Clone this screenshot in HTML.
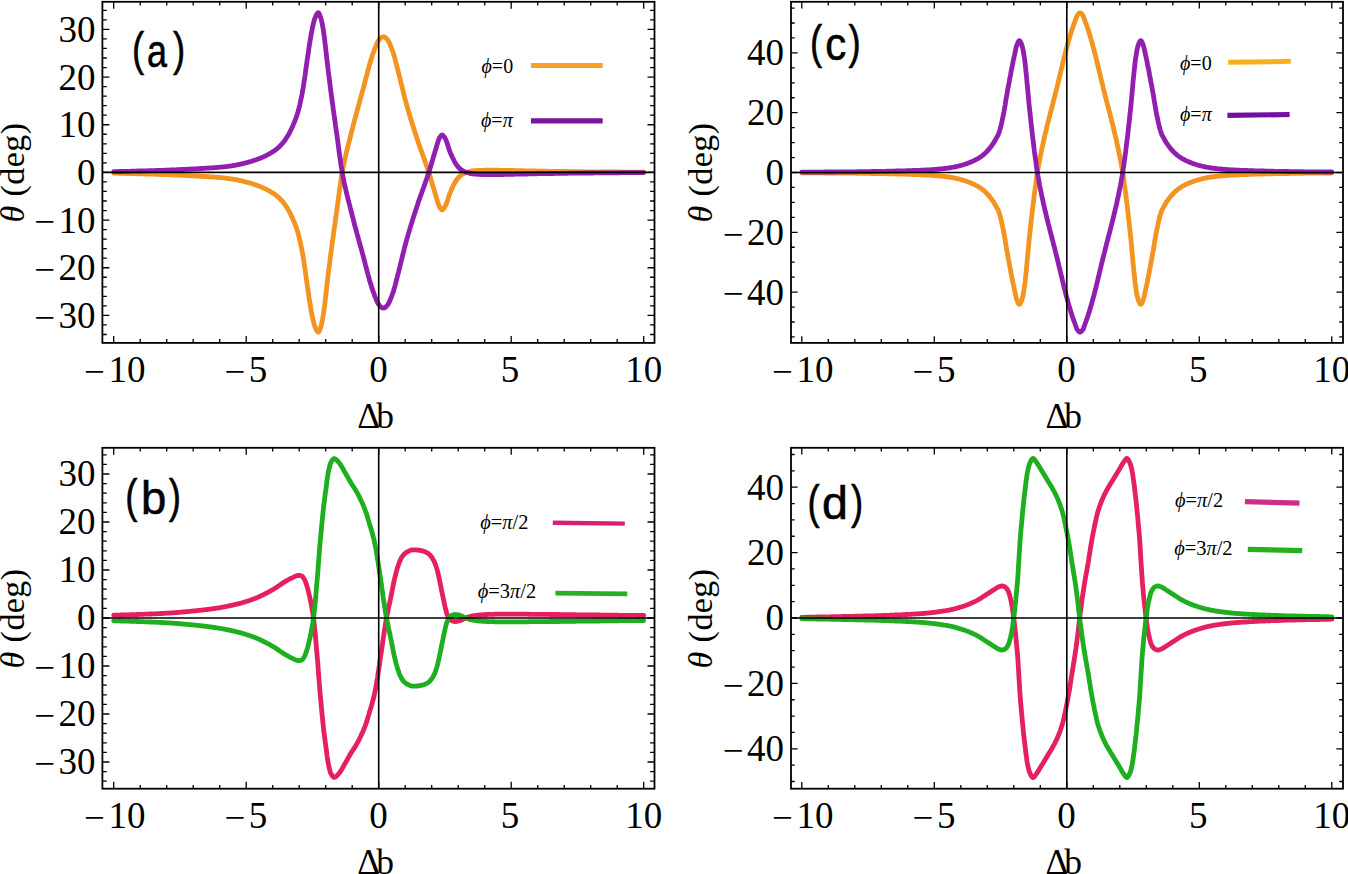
<!DOCTYPE html>
<html lang="en"><head><meta charset="utf-8">
<title>Rotation angle versus detuning</title>
<style>html,body{margin:0;padding:0;background:#fff;}svg{display:block;}</style>
</head><body>
<svg width="1348" height="874" viewBox="0 0 1348 874">
<rect width="1348" height="874" fill="#fff"/>
<g id="panel-a">
<g fill="none" stroke-width="4.8" stroke-linejoin="round" stroke-linecap="round">
<path stroke="#F39320" d="M113.7,173.1 L114.4,173.1 L115.0,173.2 L115.7,173.2 L116.3,173.2 L117.0,173.2 L117.7,173.2 L118.3,173.2 L119.0,173.3 L119.7,173.3 L120.3,173.3 L121.0,173.3 L121.7,173.3 L122.3,173.3 L123.0,173.4 L123.6,173.4 L124.3,173.4 L125.0,173.4 L125.6,173.4 L126.3,173.4 L126.9,173.5 L127.6,173.5 L128.3,173.5 L128.9,173.5 L129.6,173.5 L130.3,173.5 L130.9,173.6 L131.6,173.6 L132.2,173.6 L132.9,173.6 L133.6,173.6 L134.2,173.7 L134.9,173.7 L135.6,173.7 L136.2,173.7 L136.9,173.7 L137.6,173.8 L138.2,173.8 L138.9,173.8 L139.5,173.8 L140.2,173.8 L140.9,173.8 L141.5,173.9 L142.2,173.9 L142.8,173.9 L143.5,173.9 L144.2,173.9 L144.8,174.0 L145.5,174.0 L146.2,174.0 L146.8,174.0 L147.5,174.0 L148.2,174.1 L148.8,174.1 L149.5,174.1 L150.1,174.1 L150.8,174.1 L151.5,174.1 L152.1,174.2 L152.8,174.2 L153.4,174.2 L154.1,174.2 L154.8,174.2 L155.4,174.3 L156.1,174.3 L156.8,174.3 L157.4,174.3 L158.1,174.3 L158.7,174.4 L159.4,174.4 L160.1,174.4 L160.7,174.4 L161.4,174.4 L162.1,174.5 L162.7,174.5 L163.4,174.5 L164.1,174.5 L164.7,174.6 L165.4,174.6 L166.0,174.6 L166.7,174.6 L167.4,174.7 L168.0,174.7 L168.7,174.7 L169.3,174.7 L170.0,174.8 L170.7,174.8 L171.3,174.8 L172.0,174.9 L172.7,174.9 L173.3,174.9 L174.0,175.0 L174.7,175.0 L175.3,175.0 L176.0,175.0 L176.6,175.1 L177.3,175.1 L178.0,175.1 L178.6,175.2 L179.3,175.2 L179.9,175.2 L180.6,175.3 L181.3,175.3 L181.9,175.3 L182.6,175.4 L183.3,175.4 L183.9,175.4 L184.6,175.4 L185.2,175.5 L185.9,175.5 L186.6,175.5 L187.2,175.6 L187.9,175.6 L188.6,175.6 L189.2,175.7 L189.9,175.7 L190.6,175.7 L191.2,175.8 L191.9,175.8 L192.5,175.8 L193.2,175.9 L193.9,175.9 L194.5,175.9 L195.2,176.0 L195.8,176.0 L196.5,176.0 L197.2,176.1 L197.8,176.1 L198.5,176.1 L199.2,176.2 L199.8,176.2 L200.5,176.3 L201.2,176.3 L201.8,176.3 L202.5,176.4 L203.1,176.4 L203.8,176.5 L204.5,176.5 L205.1,176.5 L205.8,176.6 L206.4,176.6 L207.1,176.7 L207.8,176.7 L208.4,176.7 L209.1,176.8 L209.8,176.8 L210.4,176.9 L211.1,176.9 L211.8,177.0 L212.4,177.0 L213.1,177.0 L213.7,177.1 L214.4,177.1 L215.1,177.2 L215.7,177.2 L216.4,177.3 L217.1,177.3 L217.7,177.4 L218.4,177.5 L219.0,177.5 L219.7,177.6 L220.4,177.6 L221.0,177.7 L221.7,177.7 L222.3,177.8 L223.0,177.9 L223.7,177.9 L224.3,178.0 L225.0,178.1 L225.7,178.2 L226.3,178.2 L227.0,178.3 L227.6,178.4 L228.3,178.5 L229.0,178.6 L229.6,178.7 L230.3,178.8 L231.0,178.9 L231.6,179.0 L232.3,179.1 L232.9,179.2 L233.6,179.3 L234.3,179.4 L234.9,179.5 L235.6,179.6 L236.3,179.8 L236.9,179.9 L237.6,180.0 L238.2,180.2 L238.9,180.3 L239.6,180.4 L240.2,180.6 L240.9,180.7 L241.6,180.9 L242.2,181.0 L242.9,181.2 L243.6,181.4 L244.2,181.5 L244.9,181.7 L245.5,181.9 L246.2,182.0 L246.9,182.2 L247.5,182.4 L248.2,182.6 L248.8,182.8 L249.5,182.9 L250.2,183.1 L250.8,183.3 L251.5,183.5 L252.2,183.7 L252.8,184.0 L253.5,184.2 L254.2,184.4 L254.8,184.6 L255.5,184.8 L256.1,185.1 L256.8,185.3 L257.5,185.6 L258.1,185.8 L258.8,186.1 L259.4,186.3 L260.1,186.6 L260.8,186.9 L261.4,187.1 L262.1,187.4 L262.8,187.7 L263.4,188.0 L264.1,188.3 L264.8,188.6 L265.4,188.9 L266.1,189.2 L266.7,189.6 L267.4,189.9 L268.1,190.3 L268.7,190.6 L269.4,191.0 L270.1,191.4 L270.7,191.8 L271.4,192.2 L272.0,192.6 L272.7,193.0 L273.4,193.4 L274.0,193.9 L274.7,194.3 L275.4,194.8 L276.0,195.3 L276.7,195.8 L277.3,196.4 L278.0,196.9 L278.7,197.5 L279.3,198.1 L280.0,198.8 L280.6,199.5 L281.3,200.2 L282.0,200.9 L282.6,201.7 L283.3,202.5 L284.0,203.3 L284.6,204.2 L285.3,205.1 L285.9,206.1 L286.6,207.1 L287.3,208.1 L287.9,209.2 L288.6,210.4 L289.3,211.6 L289.9,212.9 L290.6,214.2 L291.2,215.5 L291.9,216.9 L292.6,218.4 L293.2,219.9 L293.9,221.5 L294.6,223.1 L295.2,224.9 L295.9,226.6 L296.6,228.5 L297.2,230.4 L297.9,232.5 L298.5,234.9 L299.2,237.5 L299.9,240.3 L300.5,243.3 L301.2,246.5 L301.9,249.9 L302.5,253.4 L303.2,257.1 L303.8,261.1 L304.5,265.6 L305.2,270.3 L305.8,275.2 L306.5,279.9 L307.1,284.3 L307.8,288.9 L308.5,293.4 L309.1,297.9 L309.8,302.3 L310.5,306.5 L311.1,310.4 L311.8,313.8 L312.4,317.1 L313.1,320.2 L313.8,323.0 L314.4,325.3 L315.1,327.0 L315.8,328.6 L316.4,330.0 L317.1,331.2 L317.8,331.9 L318.4,332.1 L319.1,331.4 L319.7,329.9 L320.4,328.0 L321.1,326.0 L321.7,323.3 L322.4,320.0 L323.1,316.1 L323.7,312.0 L324.4,307.4 L325.0,302.0 L325.7,296.1 L326.4,290.1 L327.0,284.4 L327.7,279.0 L328.3,273.5 L329.0,268.2 L329.7,262.8 L330.3,257.6 L331.0,252.5 L331.7,247.5 L332.3,242.6 L333.0,237.8 L333.6,233.0 L334.3,228.2 L335.0,223.5 L335.6,218.7 L336.3,214.0 L337.0,209.3 L337.6,204.6 L338.3,199.7 L338.9,194.7 L339.6,189.7 L340.3,184.9 L340.9,180.2 L341.6,176.0 L342.3,172.1 L342.9,168.6 L343.6,165.2 L344.2,162.0 L344.9,158.9 L345.6,156.0 L346.2,153.1 L346.9,150.3 L347.6,147.6 L348.2,145.0 L348.9,142.4 L349.6,139.8 L350.2,137.3 L350.9,134.7 L351.5,132.1 L352.2,129.5 L352.9,126.9 L353.5,124.3 L354.2,121.8 L354.8,119.2 L355.5,116.8 L356.2,114.3 L356.8,111.9 L357.5,109.4 L358.2,107.0 L358.8,104.6 L359.5,102.2 L360.1,99.8 L360.8,97.4 L361.5,95.0 L362.1,92.6 L362.8,90.1 L363.5,87.6 L364.1,85.1 L364.8,82.5 L365.4,80.0 L366.1,77.4 L366.8,74.9 L367.4,72.4 L368.1,69.9 L368.8,67.5 L369.4,65.1 L370.1,62.8 L370.8,60.6 L371.4,58.4 L372.1,56.4 L372.7,54.4 L373.4,52.6 L374.1,50.8 L374.7,49.0 L375.4,47.2 L376.1,45.6 L376.7,44.0 L377.4,42.6 L378.0,41.4 L378.7,40.4 L379.4,39.4 L380.0,38.6 L380.7,37.9 L381.4,37.5 L382.0,37.2 L382.7,37.0 L383.3,36.8 L384.0,36.8 L384.7,37.0 L385.3,37.5 L386.0,38.1 L386.7,38.8 L387.3,39.5 L388.0,40.4 L388.6,41.5 L389.3,42.8 L390.0,44.3 L390.6,45.9 L391.3,47.5 L391.9,49.3 L392.6,51.1 L393.3,53.0 L393.9,55.1 L394.6,57.5 L395.3,60.0 L395.9,62.5 L396.6,65.1 L397.2,67.7 L397.9,70.3 L398.6,72.9 L399.2,75.5 L399.9,78.1 L400.6,80.9 L401.2,83.6 L401.9,86.4 L402.6,89.1 L403.2,91.8 L403.9,94.5 L404.5,97.1 L405.2,99.7 L405.9,102.1 L406.5,104.5 L407.2,106.9 L407.9,109.2 L408.5,111.4 L409.2,113.7 L409.8,115.9 L410.5,118.1 L411.2,120.2 L411.8,122.4 L412.5,124.5 L413.1,126.6 L413.8,128.6 L414.5,130.7 L415.1,132.8 L415.8,134.8 L416.5,136.8 L417.1,138.8 L417.8,140.9 L418.4,142.9 L419.1,144.8 L419.8,146.7 L420.4,148.6 L421.1,150.5 L421.8,152.3 L422.4,154.2 L423.1,156.0 L423.8,157.8 L424.4,159.7 L425.1,161.5 L425.7,163.4 L426.4,165.3 L427.1,167.2 L427.7,169.2 L428.4,171.2 L429.1,173.2 L429.7,175.3 L430.4,177.5 L431.0,179.7 L431.7,182.0 L432.4,184.3 L433.0,186.5 L433.7,188.8 L434.4,191.0 L435.0,193.2 L435.7,195.3 L436.3,197.5 L437.0,199.8 L437.7,202.0 L438.3,204.1 L439.0,205.9 L439.6,207.2 L440.3,208.2 L441.0,209.1 L441.6,209.7 L442.3,209.8 L443.0,209.4 L443.6,208.6 L444.3,207.7 L444.9,206.7 L445.6,205.5 L446.3,204.0 L446.9,202.2 L447.6,200.2 L448.3,198.1 L448.9,196.0 L449.6,194.1 L450.2,192.4 L450.9,190.9 L451.6,189.3 L452.2,187.8 L452.9,186.4 L453.6,185.0 L454.2,183.7 L454.9,182.5 L455.6,181.5 L456.2,180.5 L456.9,179.5 L457.5,178.7 L458.2,177.8 L458.9,177.1 L459.5,176.4 L460.2,175.8 L460.9,175.3 L461.5,174.8 L462.2,174.4 L462.8,174.0 L463.5,173.7 L464.2,173.4 L464.8,173.1 L465.5,172.8 L466.1,172.6 L466.8,172.4 L467.5,172.2 L468.1,172.0 L468.8,171.8 L469.5,171.6 L470.1,171.4 L470.8,171.2 L471.4,171.1 L472.1,171.0 L472.8,170.9 L473.4,170.8 L474.1,170.7 L474.8,170.7 L475.4,170.6 L476.1,170.6 L476.8,170.6 L477.4,170.5 L478.1,170.5 L478.7,170.5 L479.4,170.4 L480.1,170.4 L480.7,170.4 L481.4,170.3 L482.1,170.3 L482.7,170.3 L483.4,170.3 L484.0,170.2 L484.7,170.2 L485.4,170.2 L486.0,170.2 L486.7,170.2 L487.4,170.2 L488.0,170.2 L488.7,170.2 L489.3,170.2 L490.0,170.2 L490.7,170.2 L491.3,170.2 L492.0,170.2 L492.6,170.2 L493.3,170.2 L494.0,170.2 L494.6,170.2 L495.3,170.2 L496.0,170.2 L496.6,170.2 L497.3,170.2 L497.9,170.2 L498.6,170.2 L499.3,170.3 L499.9,170.3 L500.6,170.3 L501.3,170.3 L501.9,170.3 L502.6,170.3 L503.2,170.3 L503.9,170.3 L504.6,170.4 L505.2,170.4 L505.9,170.4 L506.6,170.4 L507.2,170.4 L507.9,170.4 L508.6,170.4 L509.2,170.5 L509.9,170.5 L510.5,170.5 L511.2,170.5 L511.9,170.5 L512.5,170.5 L513.2,170.5 L513.9,170.5 L514.5,170.6 L515.2,170.6 L515.8,170.6 L516.5,170.6 L517.2,170.6 L517.8,170.6 L518.5,170.6 L519.1,170.7 L519.8,170.7 L520.5,170.7 L521.1,170.7 L521.8,170.7 L522.5,170.7 L523.1,170.7 L523.8,170.8 L524.5,170.8 L525.1,170.8 L525.8,170.8 L526.4,170.8 L527.1,170.8 L527.8,170.9 L528.4,170.9 L529.1,170.9 L529.8,170.9 L530.4,170.9 L531.1,170.9 L531.7,170.9 L532.4,171.0 L533.1,171.0 L533.7,171.0 L534.4,171.0 L535.0,171.0 L535.7,171.0 L536.4,171.0 L537.0,171.1 L537.7,171.1 L538.4,171.1 L539.0,171.1 L539.7,171.1 L540.4,171.1 L541.0,171.1 L541.7,171.1 L542.3,171.1 L543.0,171.2 L543.7,171.2 L544.3,171.2 L545.0,171.2 L545.6,171.2 L546.3,171.2 L547.0,171.2 L547.6,171.2 L548.3,171.3 L549.0,171.3 L549.6,171.3 L550.3,171.3 L551.0,171.3 L551.6,171.3 L552.3,171.3 L552.9,171.3 L553.6,171.3 L554.3,171.4 L554.9,171.4 L555.6,171.4 L556.2,171.4 L556.9,171.4 L557.6,171.4 L558.2,171.4 L558.9,171.4 L559.6,171.4 L560.2,171.4 L560.9,171.5 L561.6,171.5 L562.2,171.5 L562.9,171.5 L563.5,171.5 L564.2,171.5 L564.9,171.5 L565.5,171.5 L566.2,171.5 L566.9,171.5 L567.5,171.6 L568.2,171.6 L568.8,171.6 L569.5,171.6 L570.2,171.6 L570.8,171.6 L571.5,171.6 L572.1,171.6 L572.8,171.6 L573.5,171.6 L574.1,171.6 L574.8,171.7 L575.5,171.7 L576.1,171.7 L576.8,171.7 L577.5,171.7 L578.1,171.7 L578.8,171.7 L579.4,171.7 L580.1,171.7 L580.8,171.7 L581.4,171.7 L582.1,171.7 L582.8,171.8 L583.4,171.8 L584.1,171.8 L584.7,171.8 L585.4,171.8 L586.1,171.8 L586.7,171.8 L587.4,171.8 L588.1,171.8 L588.7,171.8 L589.4,171.8 L590.0,171.8 L590.7,171.8 L591.4,171.8 L592.0,171.8 L592.7,171.8 L593.4,171.8 L594.0,171.9 L594.7,171.9 L595.3,171.9 L596.0,171.9 L596.7,171.9 L597.3,171.9 L598.0,171.9 L598.6,171.9 L599.3,171.9 L600.0,171.9 L600.6,171.9 L601.3,171.9 L602.0,171.9 L602.6,171.9 L603.3,171.9 L604.0,171.9 L604.6,171.9 L605.3,171.9 L605.9,171.9 L606.6,172.0 L607.3,172.0 L607.9,172.0 L608.6,172.0 L609.2,172.0 L609.9,172.0 L610.6,172.0 L611.2,172.0 L611.9,172.0 L612.6,172.0 L613.2,172.0 L613.9,172.0 L614.6,172.0 L615.2,172.0 L615.9,172.0 L616.5,172.0 L617.2,172.0 L617.9,172.0 L618.5,172.0 L619.2,172.0 L619.9,172.0 L620.5,172.1 L621.2,172.1 L621.8,172.1 L622.5,172.1 L623.2,172.1 L623.8,172.1 L624.5,172.1 L625.1,172.1 L625.8,172.1 L626.5,172.1 L627.1,172.1 L627.8,172.1 L628.5,172.1 L629.1,172.1 L629.8,172.1 L630.5,172.1 L631.1,172.1 L631.8,172.1 L632.4,172.1 L633.1,172.1 L633.8,172.1 L634.4,172.1 L635.1,172.1 L635.8,172.1 L636.4,172.1 L637.1,172.1 L637.7,172.1 L638.4,172.1 L639.1,172.1 L639.7,172.1 L640.4,172.1 L641.1,172.1 L641.7,172.1 L642.4,172.1 L643.0,172.2 L643.7,172.2"/>
<path stroke="#911EAF" d="M113.7,171.7 L114.4,171.7 L115.0,171.6 L115.7,171.6 L116.3,171.6 L117.0,171.6 L117.7,171.6 L118.3,171.6 L119.0,171.5 L119.7,171.5 L120.3,171.5 L121.0,171.5 L121.7,171.5 L122.3,171.5 L123.0,171.4 L123.6,171.4 L124.3,171.4 L125.0,171.4 L125.6,171.4 L126.3,171.4 L126.9,171.3 L127.6,171.3 L128.3,171.3 L128.9,171.3 L129.6,171.3 L130.3,171.3 L130.9,171.2 L131.6,171.2 L132.2,171.2 L132.9,171.2 L133.6,171.2 L134.2,171.1 L134.9,171.1 L135.6,171.1 L136.2,171.1 L136.9,171.1 L137.6,171.0 L138.2,171.0 L138.9,171.0 L139.5,171.0 L140.2,171.0 L140.9,171.0 L141.5,170.9 L142.2,170.9 L142.8,170.9 L143.5,170.9 L144.2,170.9 L144.8,170.8 L145.5,170.8 L146.2,170.8 L146.8,170.8 L147.5,170.8 L148.2,170.7 L148.8,170.7 L149.5,170.7 L150.1,170.7 L150.8,170.7 L151.5,170.7 L152.1,170.6 L152.8,170.6 L153.4,170.6 L154.1,170.6 L154.8,170.6 L155.4,170.5 L156.1,170.5 L156.8,170.5 L157.4,170.5 L158.1,170.5 L158.7,170.4 L159.4,170.4 L160.1,170.4 L160.7,170.4 L161.4,170.4 L162.1,170.3 L162.7,170.3 L163.4,170.3 L164.1,170.3 L164.7,170.2 L165.4,170.2 L166.0,170.2 L166.7,170.2 L167.4,170.1 L168.0,170.1 L168.7,170.1 L169.3,170.1 L170.0,170.0 L170.7,170.0 L171.3,170.0 L172.0,169.9 L172.7,169.9 L173.3,169.9 L174.0,169.8 L174.7,169.8 L175.3,169.8 L176.0,169.8 L176.6,169.7 L177.3,169.7 L178.0,169.7 L178.6,169.6 L179.3,169.6 L179.9,169.6 L180.6,169.5 L181.3,169.5 L181.9,169.5 L182.6,169.4 L183.3,169.4 L183.9,169.4 L184.6,169.4 L185.2,169.3 L185.9,169.3 L186.6,169.3 L187.2,169.2 L187.9,169.2 L188.6,169.2 L189.2,169.1 L189.9,169.1 L190.6,169.1 L191.2,169.0 L191.9,169.0 L192.5,169.0 L193.2,168.9 L193.9,168.9 L194.5,168.9 L195.2,168.8 L195.8,168.8 L196.5,168.8 L197.2,168.7 L197.8,168.7 L198.5,168.7 L199.2,168.6 L199.8,168.6 L200.5,168.5 L201.2,168.5 L201.8,168.5 L202.5,168.4 L203.1,168.4 L203.8,168.3 L204.5,168.3 L205.1,168.3 L205.8,168.2 L206.4,168.2 L207.1,168.1 L207.8,168.1 L208.4,168.1 L209.1,168.0 L209.8,168.0 L210.4,167.9 L211.1,167.9 L211.8,167.8 L212.4,167.8 L213.1,167.8 L213.7,167.7 L214.4,167.7 L215.1,167.6 L215.7,167.6 L216.4,167.5 L217.1,167.5 L217.7,167.4 L218.4,167.3 L219.0,167.3 L219.7,167.2 L220.4,167.2 L221.0,167.1 L221.7,167.1 L222.3,167.0 L223.0,166.9 L223.7,166.9 L224.3,166.8 L225.0,166.7 L225.7,166.6 L226.3,166.6 L227.0,166.5 L227.6,166.4 L228.3,166.3 L229.0,166.2 L229.6,166.1 L230.3,166.0 L231.0,165.9 L231.6,165.8 L232.3,165.7 L232.9,165.6 L233.6,165.5 L234.3,165.4 L234.9,165.3 L235.6,165.2 L236.3,165.0 L236.9,164.9 L237.6,164.8 L238.2,164.6 L238.9,164.5 L239.6,164.4 L240.2,164.2 L240.9,164.1 L241.6,163.9 L242.2,163.8 L242.9,163.6 L243.6,163.4 L244.2,163.3 L244.9,163.1 L245.5,162.9 L246.2,162.8 L246.9,162.6 L247.5,162.4 L248.2,162.2 L248.8,162.0 L249.5,161.9 L250.2,161.7 L250.8,161.5 L251.5,161.3 L252.2,161.1 L252.8,160.8 L253.5,160.6 L254.2,160.4 L254.8,160.2 L255.5,160.0 L256.1,159.7 L256.8,159.5 L257.5,159.2 L258.1,159.0 L258.8,158.7 L259.4,158.5 L260.1,158.2 L260.8,157.9 L261.4,157.7 L262.1,157.4 L262.8,157.1 L263.4,156.8 L264.1,156.5 L264.8,156.2 L265.4,155.9 L266.1,155.6 L266.7,155.2 L267.4,154.9 L268.1,154.5 L268.7,154.2 L269.4,153.8 L270.1,153.4 L270.7,153.0 L271.4,152.6 L272.0,152.2 L272.7,151.8 L273.4,151.4 L274.0,150.9 L274.7,150.5 L275.4,150.0 L276.0,149.5 L276.7,149.0 L277.3,148.4 L278.0,147.9 L278.7,147.3 L279.3,146.7 L280.0,146.0 L280.6,145.3 L281.3,144.6 L282.0,143.9 L282.6,143.1 L283.3,142.3 L284.0,141.5 L284.6,140.6 L285.3,139.7 L285.9,138.7 L286.6,137.7 L287.3,136.7 L287.9,135.6 L288.6,134.4 L289.3,133.2 L289.9,131.9 L290.6,130.6 L291.2,129.3 L291.9,127.9 L292.6,126.4 L293.2,124.9 L293.9,123.3 L294.6,121.7 L295.2,119.9 L295.9,118.2 L296.6,116.3 L297.2,114.4 L297.9,112.3 L298.5,109.9 L299.2,107.3 L299.9,104.5 L300.5,101.5 L301.2,98.3 L301.9,94.9 L302.5,91.4 L303.2,87.7 L303.8,83.7 L304.5,79.2 L305.2,74.5 L305.8,69.6 L306.5,64.9 L307.1,60.5 L307.8,55.9 L308.5,51.4 L309.1,46.9 L309.8,42.5 L310.5,38.3 L311.1,34.4 L311.8,31.0 L312.4,27.7 L313.1,24.6 L313.8,21.8 L314.4,19.5 L315.1,17.8 L315.8,16.2 L316.4,14.8 L317.1,13.6 L317.8,12.9 L318.4,12.7 L319.1,13.4 L319.7,14.9 L320.4,16.8 L321.1,18.8 L321.7,21.5 L322.4,24.8 L323.1,28.7 L323.7,32.8 L324.4,37.4 L325.0,42.8 L325.7,48.7 L326.4,54.7 L327.0,60.4 L327.7,65.8 L328.3,71.3 L329.0,76.6 L329.7,82.0 L330.3,87.2 L331.0,92.3 L331.7,97.3 L332.3,102.2 L333.0,107.0 L333.6,111.8 L334.3,116.6 L335.0,121.3 L335.6,126.1 L336.3,130.8 L337.0,135.5 L337.6,140.2 L338.3,145.1 L338.9,150.1 L339.6,155.1 L340.3,159.9 L340.9,164.6 L341.6,168.8 L342.3,172.7 L342.9,176.2 L343.6,179.6 L344.2,182.8 L344.9,185.9 L345.6,188.8 L346.2,191.7 L346.9,194.5 L347.6,197.2 L348.2,199.8 L348.9,202.4 L349.6,205.0 L350.2,207.5 L350.9,210.1 L351.5,212.7 L352.2,215.3 L352.9,217.9 L353.5,220.5 L354.2,223.0 L354.8,225.6 L355.5,228.0 L356.2,230.5 L356.8,232.9 L357.5,235.4 L358.2,237.8 L358.8,240.2 L359.5,242.6 L360.1,245.0 L360.8,247.4 L361.5,249.8 L362.1,252.2 L362.8,254.7 L363.5,257.2 L364.1,259.7 L364.8,262.3 L365.4,264.8 L366.1,267.4 L366.8,269.9 L367.4,272.4 L368.1,274.9 L368.8,277.3 L369.4,279.7 L370.1,282.0 L370.8,284.2 L371.4,286.4 L372.1,288.4 L372.7,290.4 L373.4,292.2 L374.1,294.0 L374.7,295.8 L375.4,297.6 L376.1,299.2 L376.7,300.8 L377.4,302.2 L378.0,303.4 L378.7,304.4 L379.4,305.4 L380.0,306.2 L380.7,306.9 L381.4,307.3 L382.0,307.6 L382.7,307.8 L383.3,308.0 L384.0,308.0 L384.7,307.8 L385.3,307.3 L386.0,306.7 L386.7,306.0 L387.3,305.3 L388.0,304.4 L388.6,303.3 L389.3,302.0 L390.0,300.5 L390.6,298.9 L391.3,297.3 L391.9,295.5 L392.6,293.7 L393.3,291.8 L393.9,289.7 L394.6,287.3 L395.3,284.8 L395.9,282.3 L396.6,279.7 L397.2,277.1 L397.9,274.5 L398.6,271.9 L399.2,269.3 L399.9,266.7 L400.6,263.9 L401.2,261.2 L401.9,258.4 L402.6,255.7 L403.2,253.0 L403.9,250.3 L404.5,247.7 L405.2,245.1 L405.9,242.7 L406.5,240.3 L407.2,237.9 L407.9,235.6 L408.5,233.4 L409.2,231.1 L409.8,228.9 L410.5,226.7 L411.2,224.6 L411.8,222.4 L412.5,220.3 L413.1,218.2 L413.8,216.2 L414.5,214.1 L415.1,212.0 L415.8,210.0 L416.5,208.0 L417.1,206.0 L417.8,203.9 L418.4,201.9 L419.1,200.0 L419.8,198.1 L420.4,196.2 L421.1,194.3 L421.8,192.5 L422.4,190.6 L423.1,188.8 L423.8,187.0 L424.4,185.1 L425.1,183.3 L425.7,181.4 L426.4,179.5 L427.1,177.6 L427.7,175.6 L428.4,173.6 L429.1,171.6 L429.7,169.5 L430.4,167.3 L431.0,165.1 L431.7,162.8 L432.4,160.5 L433.0,158.3 L433.7,156.0 L434.4,153.8 L435.0,151.6 L435.7,149.5 L436.3,147.3 L437.0,145.0 L437.7,142.8 L438.3,140.7 L439.0,138.9 L439.6,137.6 L440.3,136.6 L441.0,135.7 L441.6,135.1 L442.3,135.0 L443.0,135.4 L443.6,136.2 L444.3,137.1 L444.9,138.1 L445.6,139.3 L446.3,140.8 L446.9,142.6 L447.6,144.6 L448.3,146.7 L448.9,148.8 L449.6,150.7 L450.2,152.4 L450.9,153.9 L451.6,155.5 L452.2,157.0 L452.9,158.4 L453.6,159.8 L454.2,161.1 L454.9,162.3 L455.6,163.3 L456.2,164.3 L456.9,165.3 L457.5,166.1 L458.2,167.0 L458.9,167.7 L459.5,168.4 L460.2,169.0 L460.9,169.5 L461.5,170.0 L462.2,170.4 L462.8,170.8 L463.5,171.1 L464.2,171.4 L464.8,171.7 L465.5,172.0 L466.1,172.2 L466.8,172.4 L467.5,172.6 L468.1,172.8 L468.8,173.0 L469.5,173.2 L470.1,173.4 L470.8,173.6 L471.4,173.7 L472.1,173.8 L472.8,173.9 L473.4,174.0 L474.1,174.1 L474.8,174.1 L475.4,174.2 L476.1,174.2 L476.8,174.2 L477.4,174.3 L478.1,174.3 L478.7,174.3 L479.4,174.4 L480.1,174.4 L480.7,174.4 L481.4,174.5 L482.1,174.5 L482.7,174.5 L483.4,174.5 L484.0,174.6 L484.7,174.6 L485.4,174.6 L486.0,174.6 L486.7,174.6 L487.4,174.6 L488.0,174.6 L488.7,174.6 L489.3,174.6 L490.0,174.6 L490.7,174.6 L491.3,174.6 L492.0,174.6 L492.6,174.6 L493.3,174.6 L494.0,174.6 L494.6,174.6 L495.3,174.6 L496.0,174.6 L496.6,174.6 L497.3,174.6 L497.9,174.6 L498.6,174.6 L499.3,174.5 L499.9,174.5 L500.6,174.5 L501.3,174.5 L501.9,174.5 L502.6,174.5 L503.2,174.5 L503.9,174.5 L504.6,174.4 L505.2,174.4 L505.9,174.4 L506.6,174.4 L507.2,174.4 L507.9,174.4 L508.6,174.4 L509.2,174.3 L509.9,174.3 L510.5,174.3 L511.2,174.3 L511.9,174.3 L512.5,174.3 L513.2,174.3 L513.9,174.3 L514.5,174.2 L515.2,174.2 L515.8,174.2 L516.5,174.2 L517.2,174.2 L517.8,174.2 L518.5,174.2 L519.1,174.1 L519.8,174.1 L520.5,174.1 L521.1,174.1 L521.8,174.1 L522.5,174.1 L523.1,174.1 L523.8,174.0 L524.5,174.0 L525.1,174.0 L525.8,174.0 L526.4,174.0 L527.1,174.0 L527.8,173.9 L528.4,173.9 L529.1,173.9 L529.8,173.9 L530.4,173.9 L531.1,173.9 L531.7,173.9 L532.4,173.8 L533.1,173.8 L533.7,173.8 L534.4,173.8 L535.0,173.8 L535.7,173.8 L536.4,173.8 L537.0,173.7 L537.7,173.7 L538.4,173.7 L539.0,173.7 L539.7,173.7 L540.4,173.7 L541.0,173.7 L541.7,173.7 L542.3,173.7 L543.0,173.6 L543.7,173.6 L544.3,173.6 L545.0,173.6 L545.6,173.6 L546.3,173.6 L547.0,173.6 L547.6,173.6 L548.3,173.5 L549.0,173.5 L549.6,173.5 L550.3,173.5 L551.0,173.5 L551.6,173.5 L552.3,173.5 L552.9,173.5 L553.6,173.5 L554.3,173.4 L554.9,173.4 L555.6,173.4 L556.2,173.4 L556.9,173.4 L557.6,173.4 L558.2,173.4 L558.9,173.4 L559.6,173.4 L560.2,173.4 L560.9,173.3 L561.6,173.3 L562.2,173.3 L562.9,173.3 L563.5,173.3 L564.2,173.3 L564.9,173.3 L565.5,173.3 L566.2,173.3 L566.9,173.3 L567.5,173.2 L568.2,173.2 L568.8,173.2 L569.5,173.2 L570.2,173.2 L570.8,173.2 L571.5,173.2 L572.1,173.2 L572.8,173.2 L573.5,173.2 L574.1,173.2 L574.8,173.1 L575.5,173.1 L576.1,173.1 L576.8,173.1 L577.5,173.1 L578.1,173.1 L578.8,173.1 L579.4,173.1 L580.1,173.1 L580.8,173.1 L581.4,173.1 L582.1,173.1 L582.8,173.0 L583.4,173.0 L584.1,173.0 L584.7,173.0 L585.4,173.0 L586.1,173.0 L586.7,173.0 L587.4,173.0 L588.1,173.0 L588.7,173.0 L589.4,173.0 L590.0,173.0 L590.7,173.0 L591.4,173.0 L592.0,173.0 L592.7,173.0 L593.4,173.0 L594.0,172.9 L594.7,172.9 L595.3,172.9 L596.0,172.9 L596.7,172.9 L597.3,172.9 L598.0,172.9 L598.6,172.9 L599.3,172.9 L600.0,172.9 L600.6,172.9 L601.3,172.9 L602.0,172.9 L602.6,172.9 L603.3,172.9 L604.0,172.9 L604.6,172.9 L605.3,172.9 L605.9,172.9 L606.6,172.8 L607.3,172.8 L607.9,172.8 L608.6,172.8 L609.2,172.8 L609.9,172.8 L610.6,172.8 L611.2,172.8 L611.9,172.8 L612.6,172.8 L613.2,172.8 L613.9,172.8 L614.6,172.8 L615.2,172.8 L615.9,172.8 L616.5,172.8 L617.2,172.8 L617.9,172.8 L618.5,172.8 L619.2,172.8 L619.9,172.8 L620.5,172.7 L621.2,172.7 L621.8,172.7 L622.5,172.7 L623.2,172.7 L623.8,172.7 L624.5,172.7 L625.1,172.7 L625.8,172.7 L626.5,172.7 L627.1,172.7 L627.8,172.7 L628.5,172.7 L629.1,172.7 L629.8,172.7 L630.5,172.7 L631.1,172.7 L631.8,172.7 L632.4,172.7 L633.1,172.7 L633.8,172.7 L634.4,172.7 L635.1,172.7 L635.8,172.7 L636.4,172.7 L637.1,172.7 L637.7,172.7 L638.4,172.7 L639.1,172.7 L639.7,172.7 L640.4,172.7 L641.1,172.7 L641.7,172.7 L642.4,172.7 L643.0,172.6 L643.7,172.6"/>
</g>
<path d="M102.4,172.4H654.5M378.7,1.8V342.9" stroke="#000" stroke-width="1.6" fill="none"/>
<path d="M113.7,342.9v-7.0M113.7,1.8v7.0M140.2,342.9v-3.8M140.2,1.8v3.8M166.7,342.9v-3.8M166.7,1.8v3.8M193.2,342.9v-3.8M193.2,1.8v3.8M219.7,342.9v-3.8M219.7,1.8v3.8M246.2,342.9v-7.0M246.2,1.8v7.0M272.7,342.9v-3.8M272.7,1.8v3.8M299.2,342.9v-3.8M299.2,1.8v3.8M325.7,342.9v-3.8M325.7,1.8v3.8M352.2,342.9v-3.8M352.2,1.8v3.8M378.7,342.9v-7.0M378.7,1.8v7.0M405.2,342.9v-3.8M405.2,1.8v3.8M431.7,342.9v-3.8M431.7,1.8v3.8M458.2,342.9v-3.8M458.2,1.8v3.8M484.7,342.9v-3.8M484.7,1.8v3.8M511.2,342.9v-7.0M511.2,1.8v7.0M537.7,342.9v-3.8M537.7,1.8v3.8M564.2,342.9v-3.8M564.2,1.8v3.8M590.7,342.9v-3.8M590.7,1.8v3.8M617.2,342.9v-3.8M617.2,1.8v3.8M643.7,342.9v-7.0M643.7,1.8v7.0M102.4,334.48h4.4M654.5,334.48h-4.4M102.4,324.94h4.4M654.5,324.94h-4.4M102.4,315.41h7.0M654.5,315.41h-7.0M102.4,305.88h4.4M654.5,305.88h-4.4M102.4,296.34h4.4M654.5,296.34h-4.4M102.4,286.81h4.4M654.5,286.81h-4.4M102.4,277.27h4.4M654.5,277.27h-4.4M102.4,267.74h7.0M654.5,267.74h-7.0M102.4,258.21h4.4M654.5,258.21h-4.4M102.4,248.67h4.4M654.5,248.67h-4.4M102.4,239.14h4.4M654.5,239.14h-4.4M102.4,229.6h4.4M654.5,229.6h-4.4M102.4,220.07h7.0M654.5,220.07h-7.0M102.4,210.54h4.4M654.5,210.54h-4.4M102.4,201h4.4M654.5,201h-4.4M102.4,191.47h4.4M654.5,191.47h-4.4M102.4,181.93h4.4M654.5,181.93h-4.4M102.4,172.4h7.0M654.5,172.4h-7.0M102.4,162.87h4.4M654.5,162.87h-4.4M102.4,153.33h4.4M654.5,153.33h-4.4M102.4,143.8h4.4M654.5,143.8h-4.4M102.4,134.26h4.4M654.5,134.26h-4.4M102.4,124.73h7.0M654.5,124.73h-7.0M102.4,115.2h4.4M654.5,115.2h-4.4M102.4,105.66h4.4M654.5,105.66h-4.4M102.4,96.13h4.4M654.5,96.13h-4.4M102.4,86.59h4.4M654.5,86.59h-4.4M102.4,77.06h7.0M654.5,77.06h-7.0M102.4,67.53h4.4M654.5,67.53h-4.4M102.4,57.99h4.4M654.5,57.99h-4.4M102.4,48.46h4.4M654.5,48.46h-4.4M102.4,38.92h4.4M654.5,38.92h-4.4M102.4,29.39h7.0M654.5,29.39h-7.0M102.4,19.86h4.4M654.5,19.86h-4.4M102.4,10.32h4.4M654.5,10.32h-4.4" stroke="#000" stroke-width="1.3" fill="none"/>
<rect x="102.4" y="1.8" width="552.1" height="341.1" fill="none" stroke="#000" stroke-width="1.8"/>
<g font-family="'Liberation Serif', serif" font-size="37" fill="#000"><text x="114.7" y="382.3" text-anchor="middle"><tspan dy="1.9">−</tspan><tspan dx="3.5" dy="-1.9">10</tspan></text>
<text x="245.9" y="382.3" text-anchor="middle"><tspan dy="1.9">−</tspan><tspan dx="3.5" dy="-1.9">5</tspan></text>
<text x="378.4" y="382.3" text-anchor="middle">0</text>
<text x="510.1" y="382.3" text-anchor="middle">5</text>
<text x="643.7" y="382.3" text-anchor="middle">10</text>
<text x="95.5" y="327.86" text-anchor="end"><tspan dy="1.9">−</tspan><tspan dx="3.5" dy="-1.9">30</tspan></text>
<text x="95.5" y="280.19" text-anchor="end"><tspan dy="1.9">−</tspan><tspan dx="3.5" dy="-1.9">20</tspan></text>
<text x="95.5" y="232.52" text-anchor="end"><tspan dy="1.9">−</tspan><tspan dx="3.5" dy="-1.9">10</tspan></text>
<text x="95.5" y="184.85" text-anchor="end">0</text>
<text x="95.5" y="137.18" text-anchor="end">10</text>
<text x="95.5" y="89.51" text-anchor="end">20</text>
<text x="95.5" y="41.84" text-anchor="end">30</text></g>
<text transform="translate(23.7,172.55) rotate(-90)" text-anchor="middle" font-family="'Liberation Serif', serif" font-size="34" letter-spacing="0.45"><tspan font-style="italic">θ</tspan> (deg)</text>
<text x="373.6" y="428.1" text-anchor="middle" font-family="'Liberation Serif', serif" font-size="35.5" letter-spacing="-4">Δb</text>
</g>
<g id="panel-b">
<g fill="none" stroke-width="4.8" stroke-linejoin="round" stroke-linecap="round">
<path stroke="#E5205F" d="M113.7,615.2 L114.4,615.2 L115.0,615.2 L115.7,615.2 L116.3,615.2 L117.0,615.1 L117.7,615.1 L118.3,615.1 L119.0,615.1 L119.7,615.1 L120.3,615.0 L121.0,615.0 L121.7,615.0 L122.3,615.0 L123.0,615.0 L123.6,615.0 L124.3,614.9 L125.0,614.9 L125.6,614.9 L126.3,614.9 L126.9,614.9 L127.6,614.8 L128.3,614.8 L128.9,614.8 L129.6,614.8 L130.3,614.7 L130.9,614.7 L131.6,614.7 L132.2,614.7 L132.9,614.7 L133.6,614.6 L134.2,614.6 L134.9,614.6 L135.6,614.6 L136.2,614.5 L136.9,614.5 L137.6,614.5 L138.2,614.5 L138.9,614.4 L139.5,614.4 L140.2,614.4 L140.9,614.4 L141.5,614.4 L142.2,614.3 L142.8,614.3 L143.5,614.3 L144.2,614.2 L144.8,614.2 L145.5,614.2 L146.2,614.2 L146.8,614.1 L147.5,614.1 L148.2,614.1 L148.8,614.1 L149.5,614.0 L150.1,614.0 L150.8,614.0 L151.5,614.0 L152.1,613.9 L152.8,613.9 L153.4,613.9 L154.1,613.8 L154.8,613.8 L155.4,613.8 L156.1,613.8 L156.8,613.7 L157.4,613.7 L158.1,613.7 L158.7,613.6 L159.4,613.6 L160.1,613.6 L160.7,613.5 L161.4,613.5 L162.1,613.5 L162.7,613.4 L163.4,613.4 L164.1,613.4 L164.7,613.3 L165.4,613.3 L166.0,613.2 L166.7,613.2 L167.4,613.2 L168.0,613.1 L168.7,613.1 L169.3,613.0 L170.0,613.0 L170.7,613.0 L171.3,612.9 L172.0,612.9 L172.7,612.8 L173.3,612.8 L174.0,612.7 L174.7,612.7 L175.3,612.6 L176.0,612.6 L176.6,612.5 L177.3,612.5 L178.0,612.4 L178.6,612.4 L179.3,612.3 L179.9,612.3 L180.6,612.2 L181.3,612.2 L181.9,612.1 L182.6,612.0 L183.3,612.0 L183.9,611.9 L184.6,611.9 L185.2,611.8 L185.9,611.7 L186.6,611.7 L187.2,611.6 L187.9,611.6 L188.6,611.5 L189.2,611.4 L189.9,611.4 L190.6,611.3 L191.2,611.2 L191.9,611.2 L192.5,611.1 L193.2,611.0 L193.9,611.0 L194.5,610.9 L195.2,610.8 L195.8,610.8 L196.5,610.7 L197.2,610.6 L197.8,610.6 L198.5,610.5 L199.2,610.4 L199.8,610.3 L200.5,610.3 L201.2,610.2 L201.8,610.1 L202.5,610.0 L203.1,610.0 L203.8,609.9 L204.5,609.8 L205.1,609.7 L205.8,609.7 L206.4,609.6 L207.1,609.5 L207.8,609.4 L208.4,609.3 L209.1,609.2 L209.8,609.1 L210.4,609.1 L211.1,609.0 L211.8,608.9 L212.4,608.8 L213.1,608.7 L213.7,608.6 L214.4,608.5 L215.1,608.4 L215.7,608.3 L216.4,608.2 L217.1,608.1 L217.7,608.0 L218.4,607.9 L219.0,607.8 L219.7,607.7 L220.4,607.6 L221.0,607.5 L221.7,607.3 L222.3,607.2 L223.0,607.1 L223.7,607.0 L224.3,606.9 L225.0,606.7 L225.7,606.6 L226.3,606.5 L227.0,606.3 L227.6,606.2 L228.3,606.1 L229.0,605.9 L229.6,605.8 L230.3,605.6 L231.0,605.5 L231.6,605.4 L232.3,605.2 L232.9,605.1 L233.6,604.9 L234.3,604.7 L234.9,604.6 L235.6,604.4 L236.3,604.3 L236.9,604.1 L237.6,603.9 L238.2,603.8 L238.9,603.6 L239.6,603.4 L240.2,603.3 L240.9,603.1 L241.6,602.9 L242.2,602.7 L242.9,602.5 L243.6,602.3 L244.2,602.1 L244.9,601.9 L245.5,601.7 L246.2,601.5 L246.9,601.3 L247.5,601.1 L248.2,600.9 L248.8,600.7 L249.5,600.5 L250.2,600.2 L250.8,600.0 L251.5,599.8 L252.2,599.5 L252.8,599.3 L253.5,599.0 L254.2,598.8 L254.8,598.5 L255.5,598.3 L256.1,598.0 L256.8,597.7 L257.5,597.4 L258.1,597.1 L258.8,596.9 L259.4,596.6 L260.1,596.3 L260.8,595.9 L261.4,595.6 L262.1,595.3 L262.8,595.0 L263.4,594.7 L264.1,594.3 L264.8,594.0 L265.4,593.7 L266.1,593.3 L266.7,593.0 L267.4,592.6 L268.1,592.3 L268.7,591.9 L269.4,591.6 L270.1,591.2 L270.7,590.8 L271.4,590.4 L272.0,590.1 L272.7,589.7 L273.4,589.3 L274.0,588.9 L274.7,588.5 L275.4,588.1 L276.0,587.6 L276.7,587.2 L277.3,586.8 L278.0,586.3 L278.7,585.8 L279.3,585.4 L280.0,584.9 L280.6,584.5 L281.3,584.0 L282.0,583.6 L282.6,583.1 L283.3,582.7 L284.0,582.3 L284.6,581.8 L285.3,581.4 L285.9,581.0 L286.6,580.7 L287.3,580.3 L287.9,579.9 L288.6,579.6 L289.3,579.2 L289.9,578.9 L290.6,578.5 L291.2,578.2 L291.9,577.9 L292.6,577.6 L293.2,577.3 L293.9,577.0 L294.6,576.6 L295.2,576.3 L295.9,576.0 L296.6,575.8 L297.2,575.6 L297.9,575.5 L298.5,575.5 L299.2,575.4 L299.9,575.5 L300.5,575.6 L301.2,575.8 L301.9,576.0 L302.5,576.5 L303.2,577.4 L303.8,578.4 L304.5,579.6 L305.2,581.0 L305.8,582.7 L306.5,584.6 L307.1,586.7 L307.8,589.1 L308.5,591.8 L309.1,594.5 L309.8,597.5 L310.5,600.6 L311.1,603.8 L311.8,607.2 L312.4,611.0 L313.1,615.2 L313.8,620.0 L314.4,625.9 L315.1,632.6 L315.8,640.0 L316.4,647.6 L317.1,655.4 L317.8,663.3 L318.4,671.8 L319.1,680.6 L319.7,688.9 L320.4,696.6 L321.1,703.7 L321.7,710.6 L322.4,717.6 L323.1,724.3 L323.7,730.2 L324.4,735.4 L325.0,740.3 L325.7,745.2 L326.4,750.4 L327.0,755.5 L327.7,760.2 L328.3,763.8 L329.0,767.1 L329.7,769.9 L330.3,772.2 L331.0,773.7 L331.7,774.8 L332.3,775.8 L333.0,776.6 L333.6,777.2 L334.3,777.4 L335.0,777.2 L335.6,776.9 L336.3,776.4 L337.0,775.7 L337.6,775.0 L338.3,774.2 L338.9,773.5 L339.6,772.7 L340.3,771.8 L340.9,770.7 L341.6,769.6 L342.3,768.5 L342.9,767.3 L343.6,766.1 L344.2,764.9 L344.9,763.7 L345.6,762.6 L346.2,761.4 L346.9,760.3 L347.6,759.1 L348.2,757.9 L348.9,756.7 L349.6,755.5 L350.2,754.4 L350.9,753.3 L351.5,752.2 L352.2,751.1 L352.9,750.2 L353.5,749.2 L354.2,748.2 L354.8,747.2 L355.5,746.1 L356.2,745.0 L356.8,743.8 L357.5,742.6 L358.2,741.4 L358.8,740.1 L359.5,738.8 L360.1,737.4 L360.8,736.1 L361.5,734.6 L362.1,733.2 L362.8,731.7 L363.5,730.2 L364.1,728.6 L364.8,726.9 L365.4,725.2 L366.1,723.4 L366.8,721.4 L367.4,719.2 L368.1,716.9 L368.8,714.6 L369.4,712.3 L370.1,710.1 L370.8,708.0 L371.4,705.8 L372.1,703.6 L372.7,701.2 L373.4,698.6 L374.1,695.9 L374.7,692.9 L375.4,689.6 L376.1,686.0 L376.7,682.2 L377.4,678.1 L378.0,674.0 L378.7,669.5 L379.4,665.0 L380.0,660.4 L380.7,655.8 L381.4,651.3 L382.0,646.9 L382.7,642.4 L383.3,637.9 L384.0,633.5 L384.7,629.2 L385.3,625.0 L386.0,621.0 L386.7,617.3 L387.3,613.9 L388.0,610.7 L388.6,607.5 L389.3,604.5 L390.0,601.4 L390.6,598.3 L391.3,595.1 L391.9,591.9 L392.6,588.3 L393.3,584.8 L393.9,581.6 L394.6,578.7 L395.3,575.9 L395.9,573.2 L396.6,570.8 L397.2,568.5 L397.9,566.4 L398.6,564.5 L399.2,562.7 L399.9,561.0 L400.6,559.5 L401.2,558.1 L401.9,557.0 L402.6,556.1 L403.2,555.2 L403.9,554.5 L404.5,553.8 L405.2,553.2 L405.9,552.7 L406.5,552.2 L407.2,551.9 L407.9,551.5 L408.5,551.2 L409.2,550.9 L409.8,550.6 L410.5,550.3 L411.2,550.1 L411.8,550.0 L412.5,549.9 L413.1,549.8 L413.8,549.8 L414.5,549.9 L415.1,549.9 L415.8,549.9 L416.5,550.0 L417.1,550.0 L417.8,550.1 L418.4,550.1 L419.1,550.2 L419.8,550.3 L420.4,550.5 L421.1,550.6 L421.8,550.8 L422.4,550.9 L423.1,551.1 L423.8,551.3 L424.4,551.5 L425.1,551.8 L425.7,552.1 L426.4,552.4 L427.1,552.8 L427.7,553.2 L428.4,553.6 L429.1,554.2 L429.7,554.8 L430.4,555.5 L431.0,556.4 L431.7,557.2 L432.4,558.2 L433.0,559.3 L433.7,560.5 L434.4,561.9 L435.0,563.4 L435.7,565.1 L436.3,567.1 L437.0,569.4 L437.7,571.9 L438.3,574.6 L439.0,577.5 L439.6,580.6 L440.3,584.0 L441.0,587.2 L441.6,590.6 L442.3,593.8 L443.0,597.0 L443.6,600.1 L444.3,603.1 L444.9,606.2 L445.6,609.2 L446.3,611.8 L446.9,613.9 L447.6,615.7 L448.3,617.2 L448.9,618.2 L449.6,618.9 L450.2,619.6 L450.9,620.1 L451.6,620.5 L452.2,620.8 L452.9,621.1 L453.6,621.3 L454.2,621.4 L454.9,621.5 L455.6,621.5 L456.2,621.4 L456.9,621.4 L457.5,621.2 L458.2,621.1 L458.9,620.9 L459.5,620.7 L460.2,620.5 L460.9,620.4 L461.5,620.1 L462.2,619.8 L462.8,619.4 L463.5,619.0 L464.2,618.6 L464.8,618.2 L465.5,618.0 L466.1,617.7 L466.8,617.5 L467.5,617.3 L468.1,617.1 L468.8,616.9 L469.5,616.7 L470.1,616.6 L470.8,616.4 L471.4,616.2 L472.1,616.1 L472.8,615.9 L473.4,615.8 L474.1,615.7 L474.8,615.5 L475.4,615.4 L476.1,615.3 L476.8,615.3 L477.4,615.2 L478.1,615.1 L478.7,615.1 L479.4,615.0 L480.1,614.9 L480.7,614.9 L481.4,614.8 L482.1,614.8 L482.7,614.7 L483.4,614.7 L484.0,614.6 L484.7,614.6 L485.4,614.6 L486.0,614.5 L486.7,614.5 L487.4,614.5 L488.0,614.4 L488.7,614.4 L489.3,614.4 L490.0,614.3 L490.7,614.3 L491.3,614.3 L492.0,614.3 L492.6,614.3 L493.3,614.3 L494.0,614.3 L494.6,614.2 L495.3,614.2 L496.0,614.2 L496.6,614.2 L497.3,614.2 L497.9,614.2 L498.6,614.2 L499.3,614.2 L499.9,614.2 L500.6,614.2 L501.3,614.2 L501.9,614.2 L502.6,614.2 L503.2,614.2 L503.9,614.2 L504.6,614.2 L505.2,614.2 L505.9,614.2 L506.6,614.2 L507.2,614.2 L507.9,614.2 L508.6,614.2 L509.2,614.2 L509.9,614.2 L510.5,614.2 L511.2,614.2 L511.9,614.2 L512.5,614.2 L513.2,614.2 L513.9,614.2 L514.5,614.2 L515.2,614.2 L515.8,614.2 L516.5,614.2 L517.2,614.2 L517.8,614.2 L518.5,614.2 L519.1,614.2 L519.8,614.2 L520.5,614.2 L521.1,614.2 L521.8,614.2 L522.5,614.2 L523.1,614.2 L523.8,614.2 L524.5,614.2 L525.1,614.2 L525.8,614.2 L526.4,614.2 L527.1,614.2 L527.8,614.2 L528.4,614.2 L529.1,614.3 L529.8,614.3 L530.4,614.3 L531.1,614.3 L531.7,614.3 L532.4,614.3 L533.1,614.3 L533.7,614.3 L534.4,614.3 L535.0,614.3 L535.7,614.3 L536.4,614.3 L537.0,614.3 L537.7,614.3 L538.4,614.3 L539.0,614.3 L539.7,614.4 L540.4,614.4 L541.0,614.4 L541.7,614.4 L542.3,614.4 L543.0,614.4 L543.7,614.4 L544.3,614.4 L545.0,614.4 L545.6,614.4 L546.3,614.4 L547.0,614.4 L547.6,614.4 L548.3,614.4 L549.0,614.4 L549.6,614.4 L550.3,614.5 L551.0,614.5 L551.6,614.5 L552.3,614.5 L552.9,614.5 L553.6,614.5 L554.3,614.5 L554.9,614.5 L555.6,614.5 L556.2,614.5 L556.9,614.5 L557.6,614.5 L558.2,614.5 L558.9,614.5 L559.6,614.6 L560.2,614.6 L560.9,614.6 L561.6,614.6 L562.2,614.6 L562.9,614.6 L563.5,614.6 L564.2,614.6 L564.9,614.6 L565.5,614.6 L566.2,614.6 L566.9,614.6 L567.5,614.6 L568.2,614.7 L568.8,614.7 L569.5,614.7 L570.2,614.7 L570.8,614.7 L571.5,614.7 L572.1,614.7 L572.8,614.7 L573.5,614.7 L574.1,614.7 L574.8,614.7 L575.5,614.7 L576.1,614.8 L576.8,614.8 L577.5,614.8 L578.1,614.8 L578.8,614.8 L579.4,614.8 L580.1,614.8 L580.8,614.8 L581.4,614.8 L582.1,614.8 L582.8,614.8 L583.4,614.8 L584.1,614.9 L584.7,614.9 L585.4,614.9 L586.1,614.9 L586.7,614.9 L587.4,614.9 L588.1,614.9 L588.7,614.9 L589.4,614.9 L590.0,614.9 L590.7,614.9 L591.4,614.9 L592.0,615.0 L592.7,615.0 L593.4,615.0 L594.0,615.0 L594.7,615.0 L595.3,615.0 L596.0,615.0 L596.7,615.0 L597.3,615.0 L598.0,615.0 L598.6,615.0 L599.3,615.0 L600.0,615.0 L600.6,615.1 L601.3,615.1 L602.0,615.1 L602.6,615.1 L603.3,615.1 L604.0,615.1 L604.6,615.1 L605.3,615.1 L605.9,615.1 L606.6,615.1 L607.3,615.1 L607.9,615.1 L608.6,615.1 L609.2,615.2 L609.9,615.2 L610.6,615.2 L611.2,615.2 L611.9,615.2 L612.6,615.2 L613.2,615.2 L613.9,615.2 L614.6,615.2 L615.2,615.2 L615.9,615.2 L616.5,615.2 L617.2,615.2 L617.9,615.2 L618.5,615.3 L619.2,615.3 L619.9,615.3 L620.5,615.3 L621.2,615.3 L621.8,615.3 L622.5,615.3 L623.2,615.3 L623.8,615.3 L624.5,615.3 L625.1,615.3 L625.8,615.3 L626.5,615.3 L627.1,615.4 L627.8,615.4 L628.5,615.4 L629.1,615.4 L629.8,615.4 L630.5,615.4 L631.1,615.4 L631.8,615.4 L632.4,615.4 L633.1,615.4 L633.8,615.4 L634.4,615.4 L635.1,615.4 L635.8,615.5 L636.4,615.5 L637.1,615.5 L637.7,615.5 L638.4,615.5 L639.1,615.5 L639.7,615.5 L640.4,615.5 L641.1,615.5 L641.7,615.5 L642.4,615.5 L643.0,615.5 L643.7,615.5"/>
<path stroke="#1FAE1F" d="M113.7,620.8 L114.4,620.8 L115.0,620.8 L115.7,620.8 L116.3,620.8 L117.0,620.9 L117.7,620.9 L118.3,620.9 L119.0,620.9 L119.7,620.9 L120.3,621.0 L121.0,621.0 L121.7,621.0 L122.3,621.0 L123.0,621.0 L123.6,621.0 L124.3,621.1 L125.0,621.1 L125.6,621.1 L126.3,621.1 L126.9,621.1 L127.6,621.2 L128.3,621.2 L128.9,621.2 L129.6,621.2 L130.3,621.3 L130.9,621.3 L131.6,621.3 L132.2,621.3 L132.9,621.3 L133.6,621.4 L134.2,621.4 L134.9,621.4 L135.6,621.4 L136.2,621.5 L136.9,621.5 L137.6,621.5 L138.2,621.5 L138.9,621.6 L139.5,621.6 L140.2,621.6 L140.9,621.6 L141.5,621.6 L142.2,621.7 L142.8,621.7 L143.5,621.7 L144.2,621.8 L144.8,621.8 L145.5,621.8 L146.2,621.8 L146.8,621.9 L147.5,621.9 L148.2,621.9 L148.8,621.9 L149.5,622.0 L150.1,622.0 L150.8,622.0 L151.5,622.0 L152.1,622.1 L152.8,622.1 L153.4,622.1 L154.1,622.2 L154.8,622.2 L155.4,622.2 L156.1,622.2 L156.8,622.3 L157.4,622.3 L158.1,622.3 L158.7,622.4 L159.4,622.4 L160.1,622.4 L160.7,622.5 L161.4,622.5 L162.1,622.5 L162.7,622.6 L163.4,622.6 L164.1,622.6 L164.7,622.7 L165.4,622.7 L166.0,622.8 L166.7,622.8 L167.4,622.8 L168.0,622.9 L168.7,622.9 L169.3,623.0 L170.0,623.0 L170.7,623.0 L171.3,623.1 L172.0,623.1 L172.7,623.2 L173.3,623.2 L174.0,623.3 L174.7,623.3 L175.3,623.4 L176.0,623.4 L176.6,623.5 L177.3,623.5 L178.0,623.6 L178.6,623.6 L179.3,623.7 L179.9,623.7 L180.6,623.8 L181.3,623.8 L181.9,623.9 L182.6,624.0 L183.3,624.0 L183.9,624.1 L184.6,624.1 L185.2,624.2 L185.9,624.3 L186.6,624.3 L187.2,624.4 L187.9,624.4 L188.6,624.5 L189.2,624.6 L189.9,624.6 L190.6,624.7 L191.2,624.8 L191.9,624.8 L192.5,624.9 L193.2,625.0 L193.9,625.0 L194.5,625.1 L195.2,625.2 L195.8,625.2 L196.5,625.3 L197.2,625.4 L197.8,625.4 L198.5,625.5 L199.2,625.6 L199.8,625.7 L200.5,625.7 L201.2,625.8 L201.8,625.9 L202.5,626.0 L203.1,626.0 L203.8,626.1 L204.5,626.2 L205.1,626.3 L205.8,626.3 L206.4,626.4 L207.1,626.5 L207.8,626.6 L208.4,626.7 L209.1,626.8 L209.8,626.9 L210.4,626.9 L211.1,627.0 L211.8,627.1 L212.4,627.2 L213.1,627.3 L213.7,627.4 L214.4,627.5 L215.1,627.6 L215.7,627.7 L216.4,627.8 L217.1,627.9 L217.7,628.0 L218.4,628.1 L219.0,628.2 L219.7,628.3 L220.4,628.4 L221.0,628.5 L221.7,628.7 L222.3,628.8 L223.0,628.9 L223.7,629.0 L224.3,629.1 L225.0,629.3 L225.7,629.4 L226.3,629.5 L227.0,629.7 L227.6,629.8 L228.3,629.9 L229.0,630.1 L229.6,630.2 L230.3,630.4 L231.0,630.5 L231.6,630.6 L232.3,630.8 L232.9,630.9 L233.6,631.1 L234.3,631.3 L234.9,631.4 L235.6,631.6 L236.3,631.7 L236.9,631.9 L237.6,632.1 L238.2,632.2 L238.9,632.4 L239.6,632.6 L240.2,632.7 L240.9,632.9 L241.6,633.1 L242.2,633.3 L242.9,633.5 L243.6,633.7 L244.2,633.9 L244.9,634.1 L245.5,634.3 L246.2,634.5 L246.9,634.7 L247.5,634.9 L248.2,635.1 L248.8,635.3 L249.5,635.5 L250.2,635.8 L250.8,636.0 L251.5,636.2 L252.2,636.5 L252.8,636.7 L253.5,637.0 L254.2,637.2 L254.8,637.5 L255.5,637.7 L256.1,638.0 L256.8,638.3 L257.5,638.6 L258.1,638.9 L258.8,639.1 L259.4,639.4 L260.1,639.7 L260.8,640.1 L261.4,640.4 L262.1,640.7 L262.8,641.0 L263.4,641.3 L264.1,641.7 L264.8,642.0 L265.4,642.3 L266.1,642.7 L266.7,643.0 L267.4,643.4 L268.1,643.7 L268.7,644.1 L269.4,644.4 L270.1,644.8 L270.7,645.2 L271.4,645.6 L272.0,645.9 L272.7,646.3 L273.4,646.7 L274.0,647.1 L274.7,647.5 L275.4,647.9 L276.0,648.4 L276.7,648.8 L277.3,649.2 L278.0,649.7 L278.7,650.2 L279.3,650.6 L280.0,651.1 L280.6,651.5 L281.3,652.0 L282.0,652.4 L282.6,652.9 L283.3,653.3 L284.0,653.7 L284.6,654.2 L285.3,654.6 L285.9,655.0 L286.6,655.3 L287.3,655.7 L287.9,656.1 L288.6,656.4 L289.3,656.8 L289.9,657.1 L290.6,657.5 L291.2,657.8 L291.9,658.1 L292.6,658.4 L293.2,658.7 L293.9,659.0 L294.6,659.4 L295.2,659.7 L295.9,660.0 L296.6,660.2 L297.2,660.4 L297.9,660.5 L298.5,660.5 L299.2,660.6 L299.9,660.5 L300.5,660.4 L301.2,660.2 L301.9,660.0 L302.5,659.5 L303.2,658.6 L303.8,657.6 L304.5,656.4 L305.2,655.0 L305.8,653.3 L306.5,651.4 L307.1,649.3 L307.8,646.9 L308.5,644.2 L309.1,641.5 L309.8,638.5 L310.5,635.4 L311.1,632.2 L311.8,628.8 L312.4,625.0 L313.1,620.8 L313.8,616.0 L314.4,610.1 L315.1,603.4 L315.8,596.0 L316.4,588.4 L317.1,580.6 L317.8,572.7 L318.4,564.2 L319.1,555.4 L319.7,547.1 L320.4,539.4 L321.1,532.3 L321.7,525.4 L322.4,518.4 L323.1,511.7 L323.7,505.8 L324.4,500.6 L325.0,495.7 L325.7,490.8 L326.4,485.6 L327.0,480.5 L327.7,475.8 L328.3,472.2 L329.0,468.9 L329.7,466.1 L330.3,463.8 L331.0,462.3 L331.7,461.2 L332.3,460.2 L333.0,459.4 L333.6,458.8 L334.3,458.6 L335.0,458.8 L335.6,459.1 L336.3,459.6 L337.0,460.3 L337.6,461.0 L338.3,461.8 L338.9,462.5 L339.6,463.3 L340.3,464.2 L340.9,465.3 L341.6,466.4 L342.3,467.5 L342.9,468.7 L343.6,469.9 L344.2,471.1 L344.9,472.3 L345.6,473.4 L346.2,474.6 L346.9,475.7 L347.6,476.9 L348.2,478.1 L348.9,479.3 L349.6,480.5 L350.2,481.6 L350.9,482.7 L351.5,483.8 L352.2,484.9 L352.9,485.8 L353.5,486.8 L354.2,487.8 L354.8,488.8 L355.5,489.9 L356.2,491.0 L356.8,492.2 L357.5,493.4 L358.2,494.6 L358.8,495.9 L359.5,497.2 L360.1,498.6 L360.8,499.9 L361.5,501.4 L362.1,502.8 L362.8,504.3 L363.5,505.8 L364.1,507.4 L364.8,509.1 L365.4,510.8 L366.1,512.6 L366.8,514.6 L367.4,516.8 L368.1,519.1 L368.8,521.4 L369.4,523.7 L370.1,525.9 L370.8,528.0 L371.4,530.2 L372.1,532.4 L372.7,534.8 L373.4,537.4 L374.1,540.1 L374.7,543.1 L375.4,546.4 L376.1,550.0 L376.7,553.8 L377.4,557.9 L378.0,562.0 L378.7,566.5 L379.4,571.0 L380.0,575.6 L380.7,580.2 L381.4,584.7 L382.0,589.1 L382.7,593.6 L383.3,598.1 L384.0,602.5 L384.7,606.8 L385.3,611.0 L386.0,615.0 L386.7,618.7 L387.3,622.1 L388.0,625.3 L388.6,628.5 L389.3,631.5 L390.0,634.6 L390.6,637.7 L391.3,640.9 L391.9,644.1 L392.6,647.7 L393.3,651.2 L393.9,654.4 L394.6,657.3 L395.3,660.1 L395.9,662.8 L396.6,665.2 L397.2,667.5 L397.9,669.6 L398.6,671.5 L399.2,673.3 L399.9,675.0 L400.6,676.5 L401.2,677.9 L401.9,679.0 L402.6,679.9 L403.2,680.8 L403.9,681.5 L404.5,682.2 L405.2,682.8 L405.9,683.3 L406.5,683.8 L407.2,684.1 L407.9,684.5 L408.5,684.8 L409.2,685.1 L409.8,685.4 L410.5,685.7 L411.2,685.9 L411.8,686.0 L412.5,686.1 L413.1,686.2 L413.8,686.2 L414.5,686.1 L415.1,686.1 L415.8,686.1 L416.5,686.0 L417.1,686.0 L417.8,685.9 L418.4,685.9 L419.1,685.8 L419.8,685.7 L420.4,685.5 L421.1,685.4 L421.8,685.2 L422.4,685.1 L423.1,684.9 L423.8,684.7 L424.4,684.5 L425.1,684.2 L425.7,683.9 L426.4,683.6 L427.1,683.2 L427.7,682.8 L428.4,682.4 L429.1,681.8 L429.7,681.2 L430.4,680.5 L431.0,679.6 L431.7,678.8 L432.4,677.8 L433.0,676.7 L433.7,675.5 L434.4,674.1 L435.0,672.6 L435.7,670.9 L436.3,668.9 L437.0,666.6 L437.7,664.1 L438.3,661.4 L439.0,658.5 L439.6,655.4 L440.3,652.0 L441.0,648.8 L441.6,645.4 L442.3,642.2 L443.0,639.0 L443.6,635.9 L444.3,632.9 L444.9,629.8 L445.6,626.8 L446.3,624.2 L446.9,622.1 L447.6,620.3 L448.3,618.8 L448.9,617.8 L449.6,617.1 L450.2,616.4 L450.9,615.9 L451.6,615.5 L452.2,615.2 L452.9,614.9 L453.6,614.7 L454.2,614.6 L454.9,614.5 L455.6,614.5 L456.2,614.6 L456.9,614.6 L457.5,614.8 L458.2,614.9 L458.9,615.1 L459.5,615.3 L460.2,615.5 L460.9,615.6 L461.5,615.9 L462.2,616.2 L462.8,616.6 L463.5,617.0 L464.2,617.4 L464.8,617.8 L465.5,618.0 L466.1,618.3 L466.8,618.5 L467.5,618.7 L468.1,618.9 L468.8,619.1 L469.5,619.3 L470.1,619.4 L470.8,619.6 L471.4,619.8 L472.1,619.9 L472.8,620.1 L473.4,620.2 L474.1,620.3 L474.8,620.5 L475.4,620.6 L476.1,620.7 L476.8,620.7 L477.4,620.8 L478.1,620.9 L478.7,620.9 L479.4,621.0 L480.1,621.1 L480.7,621.1 L481.4,621.2 L482.1,621.2 L482.7,621.3 L483.4,621.3 L484.0,621.4 L484.7,621.4 L485.4,621.4 L486.0,621.5 L486.7,621.5 L487.4,621.5 L488.0,621.6 L488.7,621.6 L489.3,621.6 L490.0,621.7 L490.7,621.7 L491.3,621.7 L492.0,621.7 L492.6,621.7 L493.3,621.7 L494.0,621.7 L494.6,621.8 L495.3,621.8 L496.0,621.8 L496.6,621.8 L497.3,621.8 L497.9,621.8 L498.6,621.8 L499.3,621.8 L499.9,621.8 L500.6,621.8 L501.3,621.8 L501.9,621.8 L502.6,621.8 L503.2,621.8 L503.9,621.8 L504.6,621.8 L505.2,621.8 L505.9,621.8 L506.6,621.8 L507.2,621.8 L507.9,621.8 L508.6,621.8 L509.2,621.8 L509.9,621.8 L510.5,621.8 L511.2,621.8 L511.9,621.8 L512.5,621.8 L513.2,621.8 L513.9,621.8 L514.5,621.8 L515.2,621.8 L515.8,621.8 L516.5,621.8 L517.2,621.8 L517.8,621.8 L518.5,621.8 L519.1,621.8 L519.8,621.8 L520.5,621.8 L521.1,621.8 L521.8,621.8 L522.5,621.8 L523.1,621.8 L523.8,621.8 L524.5,621.8 L525.1,621.8 L525.8,621.8 L526.4,621.8 L527.1,621.8 L527.8,621.8 L528.4,621.8 L529.1,621.7 L529.8,621.7 L530.4,621.7 L531.1,621.7 L531.7,621.7 L532.4,621.7 L533.1,621.7 L533.7,621.7 L534.4,621.7 L535.0,621.7 L535.7,621.7 L536.4,621.7 L537.0,621.7 L537.7,621.7 L538.4,621.7 L539.0,621.7 L539.7,621.6 L540.4,621.6 L541.0,621.6 L541.7,621.6 L542.3,621.6 L543.0,621.6 L543.7,621.6 L544.3,621.6 L545.0,621.6 L545.6,621.6 L546.3,621.6 L547.0,621.6 L547.6,621.6 L548.3,621.6 L549.0,621.6 L549.6,621.6 L550.3,621.5 L551.0,621.5 L551.6,621.5 L552.3,621.5 L552.9,621.5 L553.6,621.5 L554.3,621.5 L554.9,621.5 L555.6,621.5 L556.2,621.5 L556.9,621.5 L557.6,621.5 L558.2,621.5 L558.9,621.5 L559.6,621.4 L560.2,621.4 L560.9,621.4 L561.6,621.4 L562.2,621.4 L562.9,621.4 L563.5,621.4 L564.2,621.4 L564.9,621.4 L565.5,621.4 L566.2,621.4 L566.9,621.4 L567.5,621.4 L568.2,621.3 L568.8,621.3 L569.5,621.3 L570.2,621.3 L570.8,621.3 L571.5,621.3 L572.1,621.3 L572.8,621.3 L573.5,621.3 L574.1,621.3 L574.8,621.3 L575.5,621.3 L576.1,621.2 L576.8,621.2 L577.5,621.2 L578.1,621.2 L578.8,621.2 L579.4,621.2 L580.1,621.2 L580.8,621.2 L581.4,621.2 L582.1,621.2 L582.8,621.2 L583.4,621.2 L584.1,621.1 L584.7,621.1 L585.4,621.1 L586.1,621.1 L586.7,621.1 L587.4,621.1 L588.1,621.1 L588.7,621.1 L589.4,621.1 L590.0,621.1 L590.7,621.1 L591.4,621.1 L592.0,621.0 L592.7,621.0 L593.4,621.0 L594.0,621.0 L594.7,621.0 L595.3,621.0 L596.0,621.0 L596.7,621.0 L597.3,621.0 L598.0,621.0 L598.6,621.0 L599.3,621.0 L600.0,621.0 L600.6,620.9 L601.3,620.9 L602.0,620.9 L602.6,620.9 L603.3,620.9 L604.0,620.9 L604.6,620.9 L605.3,620.9 L605.9,620.9 L606.6,620.9 L607.3,620.9 L607.9,620.9 L608.6,620.9 L609.2,620.8 L609.9,620.8 L610.6,620.8 L611.2,620.8 L611.9,620.8 L612.6,620.8 L613.2,620.8 L613.9,620.8 L614.6,620.8 L615.2,620.8 L615.9,620.8 L616.5,620.8 L617.2,620.8 L617.9,620.8 L618.5,620.7 L619.2,620.7 L619.9,620.7 L620.5,620.7 L621.2,620.7 L621.8,620.7 L622.5,620.7 L623.2,620.7 L623.8,620.7 L624.5,620.7 L625.1,620.7 L625.8,620.7 L626.5,620.7 L627.1,620.6 L627.8,620.6 L628.5,620.6 L629.1,620.6 L629.8,620.6 L630.5,620.6 L631.1,620.6 L631.8,620.6 L632.4,620.6 L633.1,620.6 L633.8,620.6 L634.4,620.6 L635.1,620.6 L635.8,620.5 L636.4,620.5 L637.1,620.5 L637.7,620.5 L638.4,620.5 L639.1,620.5 L639.7,620.5 L640.4,620.5 L641.1,620.5 L641.7,620.5 L642.4,620.5 L643.0,620.5 L643.7,620.5"/>
</g>
<path d="M102.4,618H654.5M378.7,447.8V788.7" stroke="#000" stroke-width="1.6" fill="none"/>
<path d="M113.7,788.7v-7.0M113.7,447.8v7.0M140.2,788.7v-3.8M140.2,447.8v3.8M166.7,788.7v-3.8M166.7,447.8v3.8M193.2,788.7v-3.8M193.2,447.8v3.8M219.7,788.7v-3.8M219.7,447.8v3.8M246.2,788.7v-7.0M246.2,447.8v7.0M272.7,788.7v-3.8M272.7,447.8v3.8M299.2,788.7v-3.8M299.2,447.8v3.8M325.7,788.7v-3.8M325.7,447.8v3.8M352.2,788.7v-3.8M352.2,447.8v3.8M378.7,788.7v-7.0M378.7,447.8v7.0M405.2,788.7v-3.8M405.2,447.8v3.8M431.7,788.7v-3.8M431.7,447.8v3.8M458.2,788.7v-3.8M458.2,447.8v3.8M484.7,788.7v-3.8M484.7,447.8v3.8M511.2,788.7v-7.0M511.2,447.8v7.0M537.7,788.7v-3.8M537.7,447.8v3.8M564.2,788.7v-3.8M564.2,447.8v3.8M590.7,788.7v-3.8M590.7,447.8v3.8M617.2,788.7v-3.8M617.2,447.8v3.8M643.7,788.7v-7.0M643.7,447.8v7.0M102.4,781.2h4.4M654.5,781.2h-4.4M102.4,771.6h4.4M654.5,771.6h-4.4M102.4,762h7.0M654.5,762h-7.0M102.4,752.4h4.4M654.5,752.4h-4.4M102.4,742.8h4.4M654.5,742.8h-4.4M102.4,733.2h4.4M654.5,733.2h-4.4M102.4,723.6h4.4M654.5,723.6h-4.4M102.4,714h7.0M654.5,714h-7.0M102.4,704.4h4.4M654.5,704.4h-4.4M102.4,694.8h4.4M654.5,694.8h-4.4M102.4,685.2h4.4M654.5,685.2h-4.4M102.4,675.6h4.4M654.5,675.6h-4.4M102.4,666h7.0M654.5,666h-7.0M102.4,656.4h4.4M654.5,656.4h-4.4M102.4,646.8h4.4M654.5,646.8h-4.4M102.4,637.2h4.4M654.5,637.2h-4.4M102.4,627.6h4.4M654.5,627.6h-4.4M102.4,618h7.0M654.5,618h-7.0M102.4,608.4h4.4M654.5,608.4h-4.4M102.4,598.8h4.4M654.5,598.8h-4.4M102.4,589.2h4.4M654.5,589.2h-4.4M102.4,579.6h4.4M654.5,579.6h-4.4M102.4,570h7.0M654.5,570h-7.0M102.4,560.4h4.4M654.5,560.4h-4.4M102.4,550.8h4.4M654.5,550.8h-4.4M102.4,541.2h4.4M654.5,541.2h-4.4M102.4,531.6h4.4M654.5,531.6h-4.4M102.4,522h7.0M654.5,522h-7.0M102.4,512.4h4.4M654.5,512.4h-4.4M102.4,502.8h4.4M654.5,502.8h-4.4M102.4,493.2h4.4M654.5,493.2h-4.4M102.4,483.6h4.4M654.5,483.6h-4.4M102.4,474h7.0M654.5,474h-7.0M102.4,464.4h4.4M654.5,464.4h-4.4M102.4,454.8h4.4M654.5,454.8h-4.4" stroke="#000" stroke-width="1.3" fill="none"/>
<rect x="102.4" y="447.8" width="552.1" height="340.9" fill="none" stroke="#000" stroke-width="1.8"/>
<g font-family="'Liberation Serif', serif" font-size="37" fill="#000"><text x="114.7" y="828.1" text-anchor="middle"><tspan dy="1.9">−</tspan><tspan dx="3.5" dy="-1.9">10</tspan></text>
<text x="245.9" y="828.1" text-anchor="middle"><tspan dy="1.9">−</tspan><tspan dx="3.5" dy="-1.9">5</tspan></text>
<text x="378.4" y="828.1" text-anchor="middle">0</text>
<text x="510.1" y="828.1" text-anchor="middle">5</text>
<text x="643.7" y="828.1" text-anchor="middle">10</text>
<text x="95.5" y="774.45" text-anchor="end"><tspan dy="1.9">−</tspan><tspan dx="3.5" dy="-1.9">30</tspan></text>
<text x="95.5" y="726.45" text-anchor="end"><tspan dy="1.9">−</tspan><tspan dx="3.5" dy="-1.9">20</tspan></text>
<text x="95.5" y="678.45" text-anchor="end"><tspan dy="1.9">−</tspan><tspan dx="3.5" dy="-1.9">10</tspan></text>
<text x="95.5" y="630.45" text-anchor="end">0</text>
<text x="95.5" y="582.45" text-anchor="end">10</text>
<text x="95.5" y="534.45" text-anchor="end">20</text>
<text x="95.5" y="486.45" text-anchor="end">30</text></g>
<text transform="translate(23.7,618.45) rotate(-90)" text-anchor="middle" font-family="'Liberation Serif', serif" font-size="34" letter-spacing="0.45"><tspan font-style="italic">θ</tspan> (deg)</text>
<text x="373.6" y="873.9" text-anchor="middle" font-family="'Liberation Serif', serif" font-size="35.5" letter-spacing="-4">Δb</text>
</g>
<g id="panel-c">
<g fill="none" stroke-width="4.8" stroke-linejoin="round" stroke-linecap="round">
<path stroke="#F39320" d="M801.8,172.8 L802.5,172.8 L803.1,172.8 L803.8,172.8 L804.4,172.8 L805.1,172.8 L805.8,172.8 L806.4,172.8 L807.1,172.8 L807.8,172.8 L808.4,172.8 L809.1,172.8 L809.8,172.9 L810.4,172.9 L811.1,172.9 L811.7,172.9 L812.4,172.9 L813.1,172.9 L813.7,172.9 L814.4,172.9 L815.0,172.9 L815.7,172.9 L816.4,172.9 L817.0,172.9 L817.7,172.9 L818.4,172.9 L819.0,172.9 L819.7,172.9 L820.3,172.9 L821.0,172.9 L821.7,172.9 L822.3,172.9 L823.0,172.9 L823.7,172.9 L824.3,173.0 L825.0,173.0 L825.6,173.0 L826.3,173.0 L827.0,173.0 L827.6,173.0 L828.3,173.0 L829.0,173.0 L829.6,173.0 L830.3,173.0 L830.9,173.0 L831.6,173.0 L832.3,173.0 L832.9,173.0 L833.6,173.0 L834.3,173.0 L834.9,173.0 L835.6,173.0 L836.2,173.0 L836.9,173.1 L837.6,173.1 L838.2,173.1 L838.9,173.1 L839.6,173.1 L840.2,173.1 L840.9,173.1 L841.5,173.1 L842.2,173.1 L842.9,173.1 L843.5,173.1 L844.2,173.1 L844.9,173.1 L845.5,173.1 L846.2,173.1 L846.8,173.1 L847.5,173.1 L848.2,173.2 L848.8,173.2 L849.5,173.2 L850.2,173.2 L850.8,173.2 L851.5,173.2 L852.1,173.2 L852.8,173.2 L853.5,173.2 L854.1,173.2 L854.8,173.2 L855.5,173.2 L856.1,173.2 L856.8,173.2 L857.4,173.3 L858.1,173.3 L858.8,173.3 L859.4,173.3 L860.1,173.3 L860.8,173.3 L861.4,173.3 L862.1,173.3 L862.8,173.3 L863.4,173.3 L864.1,173.3 L864.7,173.4 L865.4,173.4 L866.1,173.4 L866.7,173.4 L867.4,173.4 L868.0,173.4 L868.7,173.4 L869.4,173.4 L870.0,173.4 L870.7,173.4 L871.4,173.5 L872.0,173.5 L872.7,173.5 L873.3,173.5 L874.0,173.5 L874.7,173.5 L875.3,173.5 L876.0,173.5 L876.7,173.5 L877.3,173.6 L878.0,173.6 L878.6,173.6 L879.3,173.6 L880.0,173.6 L880.6,173.6 L881.3,173.6 L882.0,173.6 L882.6,173.7 L883.3,173.7 L883.9,173.7 L884.6,173.7 L885.3,173.7 L885.9,173.7 L886.6,173.7 L887.3,173.8 L887.9,173.8 L888.6,173.8 L889.2,173.8 L889.9,173.8 L890.6,173.8 L891.2,173.8 L891.9,173.9 L892.6,173.9 L893.2,173.9 L893.9,173.9 L894.5,173.9 L895.2,173.9 L895.9,174.0 L896.5,174.0 L897.2,174.0 L897.9,174.0 L898.5,174.0 L899.2,174.0 L899.8,174.1 L900.5,174.1 L901.2,174.1 L901.8,174.1 L902.5,174.1 L903.2,174.2 L903.8,174.2 L904.5,174.2 L905.1,174.2 L905.8,174.2 L906.5,174.3 L907.1,174.3 L907.8,174.3 L908.5,174.3 L909.1,174.3 L909.8,174.4 L910.4,174.4 L911.1,174.4 L911.8,174.4 L912.4,174.5 L913.1,174.5 L913.8,174.5 L914.4,174.5 L915.1,174.6 L915.8,174.6 L916.4,174.6 L917.1,174.6 L917.7,174.7 L918.4,174.7 L919.1,174.7 L919.7,174.7 L920.4,174.8 L921.0,174.8 L921.7,174.8 L922.4,174.9 L923.0,174.9 L923.7,174.9 L924.4,174.9 L925.0,175.0 L925.7,175.0 L926.3,175.1 L927.0,175.1 L927.7,175.1 L928.3,175.2 L929.0,175.2 L929.7,175.2 L930.3,175.3 L931.0,175.3 L931.6,175.4 L932.3,175.4 L933.0,175.4 L933.6,175.5 L934.3,175.5 L935.0,175.6 L935.6,175.6 L936.3,175.7 L936.9,175.7 L937.6,175.8 L938.3,175.9 L938.9,175.9 L939.6,176.0 L940.3,176.0 L940.9,176.1 L941.6,176.2 L942.2,176.2 L942.9,176.3 L943.6,176.4 L944.2,176.5 L944.9,176.5 L945.6,176.6 L946.2,176.7 L946.9,176.8 L947.5,176.9 L948.2,177.0 L948.9,177.0 L949.5,177.1 L950.2,177.2 L950.9,177.3 L951.5,177.5 L952.2,177.6 L952.8,177.7 L953.5,177.8 L954.2,177.9 L954.8,178.1 L955.5,178.2 L956.2,178.4 L956.8,178.5 L957.5,178.7 L958.1,178.8 L958.8,179.0 L959.5,179.2 L960.1,179.3 L960.8,179.5 L961.5,179.7 L962.1,179.9 L962.8,180.1 L963.4,180.3 L964.1,180.5 L964.8,180.7 L965.4,180.9 L966.1,181.2 L966.8,181.4 L967.4,181.6 L968.1,181.9 L968.8,182.1 L969.4,182.4 L970.1,182.6 L970.7,182.9 L971.4,183.2 L972.1,183.5 L972.7,183.8 L973.4,184.1 L974.0,184.4 L974.7,184.7 L975.4,185.1 L976.0,185.4 L976.7,185.8 L977.4,186.1 L978.0,186.5 L978.7,186.9 L979.3,187.3 L980.0,187.7 L980.7,188.2 L981.3,188.6 L982.0,189.1 L982.7,189.6 L983.3,190.2 L984.0,190.7 L984.6,191.3 L985.3,191.9 L986.0,192.6 L986.6,193.3 L987.3,194.0 L988.0,194.7 L988.6,195.5 L989.3,196.2 L989.9,197.0 L990.6,197.9 L991.3,198.8 L991.9,199.7 L992.6,200.6 L993.3,201.6 L993.9,202.6 L994.6,203.7 L995.2,204.8 L995.9,206.0 L996.6,207.2 L997.2,208.4 L997.9,209.7 L998.6,211.1 L999.2,212.9 L999.9,215.0 L1000.5,217.5 L1001.2,220.2 L1001.9,223.2 L1002.5,226.3 L1003.2,229.5 L1003.9,232.8 L1004.5,236.4 L1005.2,240.4 L1005.8,244.5 L1006.5,248.4 L1007.2,252.2 L1007.8,255.8 L1008.5,259.5 L1009.2,263.0 L1009.8,266.5 L1010.5,270.0 L1011.1,273.5 L1011.8,276.9 L1012.5,280.3 L1013.1,283.6 L1013.8,286.8 L1014.5,289.8 L1015.1,292.9 L1015.8,296.0 L1016.4,298.6 L1017.1,300.5 L1017.8,302.2 L1018.4,303.5 L1019.1,304.3 L1019.8,304.2 L1020.4,303.2 L1021.1,301.8 L1021.8,300.2 L1022.4,298.0 L1023.1,295.0 L1023.7,291.3 L1024.4,287.2 L1025.1,282.0 L1025.7,275.9 L1026.4,269.5 L1027.0,262.7 L1027.7,255.4 L1028.4,248.1 L1029.0,241.2 L1029.7,234.5 L1030.4,228.4 L1031.0,222.4 L1031.7,216.5 L1032.3,210.8 L1033.0,205.1 L1033.7,199.7 L1034.3,194.4 L1035.0,189.3 L1035.7,184.4 L1036.3,179.7 L1037.0,175.2 L1037.6,171.0 L1038.3,167.1 L1039.0,163.4 L1039.6,159.8 L1040.3,156.4 L1041.0,153.2 L1041.6,150.0 L1042.3,146.8 L1043.0,143.8 L1043.6,140.8 L1044.3,137.9 L1044.9,135.1 L1045.6,132.3 L1046.3,129.6 L1046.9,126.8 L1047.6,124.1 L1048.2,121.5 L1048.9,118.9 L1049.6,116.3 L1050.2,113.7 L1050.9,111.2 L1051.6,108.6 L1052.2,106.1 L1052.9,103.5 L1053.5,100.9 L1054.2,98.3 L1054.9,95.7 L1055.5,93.0 L1056.2,90.4 L1056.9,87.8 L1057.5,85.1 L1058.2,82.4 L1058.8,79.7 L1059.5,77.0 L1060.2,74.2 L1060.8,71.4 L1061.5,68.6 L1062.2,65.8 L1062.8,63.1 L1063.5,60.3 L1064.1,57.6 L1064.8,55.0 L1065.5,52.4 L1066.1,49.9 L1066.8,47.4 L1067.5,45.0 L1068.1,42.6 L1068.8,40.2 L1069.5,37.9 L1070.1,35.7 L1070.8,33.5 L1071.4,31.4 L1072.1,29.3 L1072.8,27.3 L1073.4,25.4 L1074.1,23.6 L1074.8,21.8 L1075.4,20.0 L1076.1,18.1 L1076.7,16.4 L1077.4,15.2 L1078.1,14.4 L1078.7,13.6 L1079.4,13.0 L1080.0,12.8 L1080.7,13.0 L1081.4,13.6 L1082.0,14.4 L1082.7,15.2 L1083.4,16.4 L1084.0,18.1 L1084.7,20.0 L1085.3,21.8 L1086.0,23.6 L1086.7,25.4 L1087.3,27.3 L1088.0,29.3 L1088.7,31.4 L1089.3,33.5 L1090.0,35.7 L1090.6,37.9 L1091.3,40.2 L1092.0,42.6 L1092.6,45.0 L1093.3,47.4 L1094.0,49.9 L1094.6,52.4 L1095.3,55.0 L1096.0,57.6 L1096.6,60.3 L1097.3,63.1 L1097.9,65.8 L1098.6,68.6 L1099.3,71.4 L1099.9,74.2 L1100.6,77.0 L1101.2,79.7 L1101.9,82.4 L1102.6,85.1 L1103.2,87.8 L1103.9,90.4 L1104.6,93.0 L1105.2,95.7 L1105.9,98.3 L1106.5,100.9 L1107.2,103.5 L1107.9,106.1 L1108.5,108.6 L1109.2,111.2 L1109.9,113.7 L1110.5,116.3 L1111.2,118.9 L1111.8,121.5 L1112.5,124.1 L1113.2,126.8 L1113.8,129.6 L1114.5,132.3 L1115.2,135.1 L1115.8,137.9 L1116.5,140.8 L1117.1,143.8 L1117.8,146.8 L1118.5,150.0 L1119.1,153.2 L1119.8,156.4 L1120.5,159.8 L1121.1,163.4 L1121.8,167.1 L1122.5,171.0 L1123.1,175.2 L1123.8,179.7 L1124.4,184.4 L1125.1,189.3 L1125.8,194.4 L1126.4,199.7 L1127.1,205.1 L1127.8,210.8 L1128.4,216.5 L1129.1,222.4 L1129.7,228.4 L1130.4,234.5 L1131.1,241.2 L1131.7,248.1 L1132.4,255.4 L1133.0,262.7 L1133.7,269.5 L1134.4,275.9 L1135.0,282.0 L1135.7,287.2 L1136.4,291.3 L1137.0,295.0 L1137.7,298.0 L1138.3,300.2 L1139.0,301.8 L1139.7,303.2 L1140.3,304.2 L1141.0,304.3 L1141.7,303.5 L1142.3,302.2 L1143.0,300.5 L1143.6,298.6 L1144.3,296.0 L1145.0,292.9 L1145.6,289.8 L1146.3,286.8 L1147.0,283.6 L1147.6,280.3 L1148.3,276.9 L1149.0,273.5 L1149.6,270.0 L1150.3,266.5 L1150.9,263.0 L1151.6,259.5 L1152.3,255.8 L1152.9,252.2 L1153.6,248.4 L1154.2,244.5 L1154.9,240.4 L1155.6,236.4 L1156.2,232.8 L1156.9,229.5 L1157.6,226.3 L1158.2,223.2 L1158.9,220.2 L1159.5,217.5 L1160.2,215.0 L1160.9,212.9 L1161.5,211.1 L1162.2,209.7 L1162.9,208.4 L1163.5,207.2 L1164.2,206.0 L1164.8,204.8 L1165.5,203.7 L1166.2,202.6 L1166.8,201.6 L1167.5,200.6 L1168.2,199.7 L1168.8,198.8 L1169.5,197.9 L1170.1,197.0 L1170.8,196.2 L1171.5,195.5 L1172.1,194.7 L1172.8,194.0 L1173.5,193.3 L1174.1,192.6 L1174.8,191.9 L1175.5,191.3 L1176.1,190.7 L1176.8,190.2 L1177.4,189.6 L1178.1,189.1 L1178.8,188.6 L1179.4,188.2 L1180.1,187.7 L1180.8,187.3 L1181.4,186.9 L1182.1,186.5 L1182.7,186.1 L1183.4,185.8 L1184.1,185.4 L1184.7,185.1 L1185.4,184.7 L1186.0,184.4 L1186.7,184.1 L1187.4,183.8 L1188.0,183.5 L1188.7,183.2 L1189.4,182.9 L1190.0,182.6 L1190.7,182.4 L1191.3,182.1 L1192.0,181.9 L1192.7,181.6 L1193.3,181.4 L1194.0,181.2 L1194.7,180.9 L1195.3,180.7 L1196.0,180.5 L1196.7,180.3 L1197.3,180.1 L1198.0,179.9 L1198.6,179.7 L1199.3,179.5 L1200.0,179.3 L1200.6,179.2 L1201.3,179.0 L1202.0,178.8 L1202.6,178.7 L1203.3,178.5 L1203.9,178.4 L1204.6,178.2 L1205.3,178.1 L1205.9,177.9 L1206.6,177.8 L1207.2,177.7 L1207.9,177.6 L1208.6,177.5 L1209.2,177.3 L1209.9,177.2 L1210.6,177.1 L1211.2,177.0 L1211.9,177.0 L1212.5,176.9 L1213.2,176.8 L1213.9,176.7 L1214.5,176.6 L1215.2,176.5 L1215.9,176.5 L1216.5,176.4 L1217.2,176.3 L1217.8,176.2 L1218.5,176.2 L1219.2,176.1 L1219.8,176.0 L1220.5,176.0 L1221.2,175.9 L1221.8,175.9 L1222.5,175.8 L1223.2,175.7 L1223.8,175.7 L1224.5,175.6 L1225.1,175.6 L1225.8,175.5 L1226.5,175.5 L1227.1,175.4 L1227.8,175.4 L1228.5,175.4 L1229.1,175.3 L1229.8,175.3 L1230.4,175.2 L1231.1,175.2 L1231.8,175.2 L1232.4,175.1 L1233.1,175.1 L1233.8,175.1 L1234.4,175.0 L1235.1,175.0 L1235.7,174.9 L1236.4,174.9 L1237.1,174.9 L1237.7,174.9 L1238.4,174.8 L1239.0,174.8 L1239.7,174.8 L1240.4,174.7 L1241.0,174.7 L1241.7,174.7 L1242.4,174.7 L1243.0,174.6 L1243.7,174.6 L1244.3,174.6 L1245.0,174.6 L1245.7,174.5 L1246.3,174.5 L1247.0,174.5 L1247.7,174.5 L1248.3,174.4 L1249.0,174.4 L1249.7,174.4 L1250.3,174.4 L1251.0,174.3 L1251.6,174.3 L1252.3,174.3 L1253.0,174.3 L1253.6,174.3 L1254.3,174.2 L1255.0,174.2 L1255.6,174.2 L1256.3,174.2 L1256.9,174.2 L1257.6,174.1 L1258.3,174.1 L1258.9,174.1 L1259.6,174.1 L1260.2,174.1 L1260.9,174.0 L1261.6,174.0 L1262.2,174.0 L1262.9,174.0 L1263.6,174.0 L1264.2,174.0 L1264.9,173.9 L1265.5,173.9 L1266.2,173.9 L1266.9,173.9 L1267.5,173.9 L1268.2,173.9 L1268.9,173.8 L1269.5,173.8 L1270.2,173.8 L1270.8,173.8 L1271.5,173.8 L1272.2,173.8 L1272.8,173.8 L1273.5,173.7 L1274.2,173.7 L1274.8,173.7 L1275.5,173.7 L1276.2,173.7 L1276.8,173.7 L1277.5,173.7 L1278.1,173.6 L1278.8,173.6 L1279.5,173.6 L1280.1,173.6 L1280.8,173.6 L1281.5,173.6 L1282.1,173.6 L1282.8,173.6 L1283.4,173.5 L1284.1,173.5 L1284.8,173.5 L1285.4,173.5 L1286.1,173.5 L1286.8,173.5 L1287.4,173.5 L1288.1,173.5 L1288.7,173.5 L1289.4,173.4 L1290.1,173.4 L1290.7,173.4 L1291.4,173.4 L1292.0,173.4 L1292.7,173.4 L1293.4,173.4 L1294.0,173.4 L1294.7,173.4 L1295.4,173.4 L1296.0,173.3 L1296.7,173.3 L1297.3,173.3 L1298.0,173.3 L1298.7,173.3 L1299.3,173.3 L1300.0,173.3 L1300.7,173.3 L1301.3,173.3 L1302.0,173.3 L1302.7,173.3 L1303.3,173.2 L1304.0,173.2 L1304.6,173.2 L1305.3,173.2 L1306.0,173.2 L1306.6,173.2 L1307.3,173.2 L1308.0,173.2 L1308.6,173.2 L1309.3,173.2 L1309.9,173.2 L1310.6,173.2 L1311.3,173.2 L1311.9,173.2 L1312.6,173.1 L1313.2,173.1 L1313.9,173.1 L1314.6,173.1 L1315.2,173.1 L1315.9,173.1 L1316.6,173.1 L1317.2,173.1 L1317.9,173.1 L1318.5,173.1 L1319.2,173.1 L1319.9,173.1 L1320.5,173.1 L1321.2,173.1 L1321.9,173.1 L1322.5,173.1 L1323.2,173.1 L1323.8,173.0 L1324.5,173.0 L1325.2,173.0 L1325.8,173.0 L1326.5,173.0 L1327.2,173.0 L1327.8,173.0 L1328.5,173.0 L1329.2,173.0 L1329.8,173.0 L1330.5,173.0 L1331.1,173.0 L1331.8,173.0"/>
<path stroke="#911EAF" d="M801.8,172.2 L802.5,172.2 L803.1,172.2 L803.8,172.2 L804.4,172.2 L805.1,172.2 L805.8,172.2 L806.4,172.2 L807.1,172.2 L807.8,172.2 L808.4,172.2 L809.1,172.2 L809.8,172.1 L810.4,172.1 L811.1,172.1 L811.7,172.1 L812.4,172.1 L813.1,172.1 L813.7,172.1 L814.4,172.1 L815.0,172.1 L815.7,172.1 L816.4,172.1 L817.0,172.1 L817.7,172.1 L818.4,172.1 L819.0,172.1 L819.7,172.1 L820.3,172.1 L821.0,172.1 L821.7,172.1 L822.3,172.1 L823.0,172.1 L823.7,172.1 L824.3,172.0 L825.0,172.0 L825.6,172.0 L826.3,172.0 L827.0,172.0 L827.6,172.0 L828.3,172.0 L829.0,172.0 L829.6,172.0 L830.3,172.0 L830.9,172.0 L831.6,172.0 L832.3,172.0 L832.9,172.0 L833.6,172.0 L834.3,172.0 L834.9,172.0 L835.6,172.0 L836.2,172.0 L836.9,171.9 L837.6,171.9 L838.2,171.9 L838.9,171.9 L839.6,171.9 L840.2,171.9 L840.9,171.9 L841.5,171.9 L842.2,171.9 L842.9,171.9 L843.5,171.9 L844.2,171.9 L844.9,171.9 L845.5,171.9 L846.2,171.9 L846.8,171.9 L847.5,171.9 L848.2,171.8 L848.8,171.8 L849.5,171.8 L850.2,171.8 L850.8,171.8 L851.5,171.8 L852.1,171.8 L852.8,171.8 L853.5,171.8 L854.1,171.8 L854.8,171.8 L855.5,171.8 L856.1,171.8 L856.8,171.8 L857.4,171.7 L858.1,171.7 L858.8,171.7 L859.4,171.7 L860.1,171.7 L860.8,171.7 L861.4,171.7 L862.1,171.7 L862.8,171.7 L863.4,171.7 L864.1,171.7 L864.7,171.6 L865.4,171.6 L866.1,171.6 L866.7,171.6 L867.4,171.6 L868.0,171.6 L868.7,171.6 L869.4,171.6 L870.0,171.6 L870.7,171.6 L871.4,171.5 L872.0,171.5 L872.7,171.5 L873.3,171.5 L874.0,171.5 L874.7,171.5 L875.3,171.5 L876.0,171.5 L876.7,171.5 L877.3,171.4 L878.0,171.4 L878.6,171.4 L879.3,171.4 L880.0,171.4 L880.6,171.4 L881.3,171.4 L882.0,171.4 L882.6,171.3 L883.3,171.3 L883.9,171.3 L884.6,171.3 L885.3,171.3 L885.9,171.3 L886.6,171.3 L887.3,171.2 L887.9,171.2 L888.6,171.2 L889.2,171.2 L889.9,171.2 L890.6,171.2 L891.2,171.2 L891.9,171.1 L892.6,171.1 L893.2,171.1 L893.9,171.1 L894.5,171.1 L895.2,171.1 L895.9,171.0 L896.5,171.0 L897.2,171.0 L897.9,171.0 L898.5,171.0 L899.2,171.0 L899.8,170.9 L900.5,170.9 L901.2,170.9 L901.8,170.9 L902.5,170.9 L903.2,170.8 L903.8,170.8 L904.5,170.8 L905.1,170.8 L905.8,170.8 L906.5,170.7 L907.1,170.7 L907.8,170.7 L908.5,170.7 L909.1,170.7 L909.8,170.6 L910.4,170.6 L911.1,170.6 L911.8,170.6 L912.4,170.5 L913.1,170.5 L913.8,170.5 L914.4,170.5 L915.1,170.4 L915.8,170.4 L916.4,170.4 L917.1,170.4 L917.7,170.3 L918.4,170.3 L919.1,170.3 L919.7,170.3 L920.4,170.2 L921.0,170.2 L921.7,170.2 L922.4,170.1 L923.0,170.1 L923.7,170.1 L924.4,170.1 L925.0,170.0 L925.7,170.0 L926.3,169.9 L927.0,169.9 L927.7,169.9 L928.3,169.8 L929.0,169.8 L929.7,169.8 L930.3,169.7 L931.0,169.7 L931.6,169.6 L932.3,169.6 L933.0,169.6 L933.6,169.5 L934.3,169.5 L935.0,169.4 L935.6,169.4 L936.3,169.3 L936.9,169.3 L937.6,169.2 L938.3,169.1 L938.9,169.1 L939.6,169.0 L940.3,169.0 L940.9,168.9 L941.6,168.8 L942.2,168.8 L942.9,168.7 L943.6,168.6 L944.2,168.5 L944.9,168.5 L945.6,168.4 L946.2,168.3 L946.9,168.2 L947.5,168.1 L948.2,168.0 L948.9,168.0 L949.5,167.9 L950.2,167.8 L950.9,167.7 L951.5,167.5 L952.2,167.4 L952.8,167.3 L953.5,167.2 L954.2,167.1 L954.8,166.9 L955.5,166.8 L956.2,166.6 L956.8,166.5 L957.5,166.3 L958.1,166.2 L958.8,166.0 L959.5,165.8 L960.1,165.7 L960.8,165.5 L961.5,165.3 L962.1,165.1 L962.8,164.9 L963.4,164.7 L964.1,164.5 L964.8,164.3 L965.4,164.1 L966.1,163.8 L966.8,163.6 L967.4,163.4 L968.1,163.1 L968.8,162.9 L969.4,162.6 L970.1,162.4 L970.7,162.1 L971.4,161.8 L972.1,161.5 L972.7,161.2 L973.4,160.9 L974.0,160.6 L974.7,160.3 L975.4,159.9 L976.0,159.6 L976.7,159.2 L977.4,158.9 L978.0,158.5 L978.7,158.1 L979.3,157.7 L980.0,157.3 L980.7,156.8 L981.3,156.4 L982.0,155.9 L982.7,155.4 L983.3,154.8 L984.0,154.3 L984.6,153.7 L985.3,153.1 L986.0,152.4 L986.6,151.7 L987.3,151.0 L988.0,150.3 L988.6,149.5 L989.3,148.8 L989.9,148.0 L990.6,147.1 L991.3,146.2 L991.9,145.3 L992.6,144.4 L993.3,143.4 L993.9,142.4 L994.6,141.3 L995.2,140.2 L995.9,139.0 L996.6,137.8 L997.2,136.6 L997.9,135.3 L998.6,133.9 L999.2,132.1 L999.9,130.0 L1000.5,127.5 L1001.2,124.8 L1001.9,121.8 L1002.5,118.7 L1003.2,115.5 L1003.9,112.2 L1004.5,108.6 L1005.2,104.6 L1005.8,100.5 L1006.5,96.6 L1007.2,92.8 L1007.8,89.2 L1008.5,85.5 L1009.2,82.0 L1009.8,78.5 L1010.5,75.0 L1011.1,71.5 L1011.8,68.1 L1012.5,64.7 L1013.1,61.4 L1013.8,58.2 L1014.5,55.2 L1015.1,52.1 L1015.8,49.0 L1016.4,46.4 L1017.1,44.5 L1017.8,42.8 L1018.4,41.5 L1019.1,40.7 L1019.8,40.8 L1020.4,41.8 L1021.1,43.2 L1021.8,44.8 L1022.4,47.0 L1023.1,50.0 L1023.7,53.7 L1024.4,57.8 L1025.1,63.0 L1025.7,69.1 L1026.4,75.5 L1027.0,82.3 L1027.7,89.6 L1028.4,96.9 L1029.0,103.8 L1029.7,110.5 L1030.4,116.6 L1031.0,122.6 L1031.7,128.5 L1032.3,134.2 L1033.0,139.9 L1033.7,145.3 L1034.3,150.6 L1035.0,155.7 L1035.7,160.6 L1036.3,165.3 L1037.0,169.8 L1037.6,174.0 L1038.3,177.9 L1039.0,181.6 L1039.6,185.2 L1040.3,188.6 L1041.0,191.8 L1041.6,195.0 L1042.3,198.2 L1043.0,201.2 L1043.6,204.2 L1044.3,207.1 L1044.9,209.9 L1045.6,212.7 L1046.3,215.4 L1046.9,218.2 L1047.6,220.9 L1048.2,223.5 L1048.9,226.1 L1049.6,228.7 L1050.2,231.3 L1050.9,233.8 L1051.6,236.4 L1052.2,238.9 L1052.9,241.5 L1053.5,244.1 L1054.2,246.7 L1054.9,249.3 L1055.5,252.0 L1056.2,254.6 L1056.9,257.2 L1057.5,259.9 L1058.2,262.6 L1058.8,265.3 L1059.5,268.0 L1060.2,270.8 L1060.8,273.6 L1061.5,276.4 L1062.2,279.2 L1062.8,281.9 L1063.5,284.7 L1064.1,287.4 L1064.8,290.0 L1065.5,292.6 L1066.1,295.1 L1066.8,297.6 L1067.5,300.0 L1068.1,302.4 L1068.8,304.8 L1069.5,307.1 L1070.1,309.3 L1070.8,311.5 L1071.4,313.6 L1072.1,315.7 L1072.8,317.7 L1073.4,319.6 L1074.1,321.4 L1074.8,323.2 L1075.4,325.0 L1076.1,326.9 L1076.7,328.6 L1077.4,329.8 L1078.1,330.6 L1078.7,331.4 L1079.4,332.0 L1080.0,332.2 L1080.7,332.0 L1081.4,331.4 L1082.0,330.6 L1082.7,329.8 L1083.4,328.6 L1084.0,326.9 L1084.7,325.0 L1085.3,323.2 L1086.0,321.4 L1086.7,319.6 L1087.3,317.7 L1088.0,315.7 L1088.7,313.6 L1089.3,311.5 L1090.0,309.3 L1090.6,307.1 L1091.3,304.8 L1092.0,302.4 L1092.6,300.0 L1093.3,297.6 L1094.0,295.1 L1094.6,292.6 L1095.3,290.0 L1096.0,287.4 L1096.6,284.7 L1097.3,281.9 L1097.9,279.2 L1098.6,276.4 L1099.3,273.6 L1099.9,270.8 L1100.6,268.0 L1101.2,265.3 L1101.9,262.6 L1102.6,259.9 L1103.2,257.2 L1103.9,254.6 L1104.6,252.0 L1105.2,249.3 L1105.9,246.7 L1106.5,244.1 L1107.2,241.5 L1107.9,238.9 L1108.5,236.4 L1109.2,233.8 L1109.9,231.3 L1110.5,228.7 L1111.2,226.1 L1111.8,223.5 L1112.5,220.9 L1113.2,218.2 L1113.8,215.4 L1114.5,212.7 L1115.2,209.9 L1115.8,207.1 L1116.5,204.2 L1117.1,201.2 L1117.8,198.2 L1118.5,195.0 L1119.1,191.8 L1119.8,188.6 L1120.5,185.2 L1121.1,181.6 L1121.8,177.9 L1122.5,174.0 L1123.1,169.8 L1123.8,165.3 L1124.4,160.6 L1125.1,155.7 L1125.8,150.6 L1126.4,145.3 L1127.1,139.9 L1127.8,134.2 L1128.4,128.5 L1129.1,122.6 L1129.7,116.6 L1130.4,110.5 L1131.1,103.8 L1131.7,96.9 L1132.4,89.6 L1133.0,82.3 L1133.7,75.5 L1134.4,69.1 L1135.0,63.0 L1135.7,57.8 L1136.4,53.7 L1137.0,50.0 L1137.7,47.0 L1138.3,44.8 L1139.0,43.2 L1139.7,41.8 L1140.3,40.8 L1141.0,40.7 L1141.7,41.5 L1142.3,42.8 L1143.0,44.5 L1143.6,46.4 L1144.3,49.0 L1145.0,52.1 L1145.6,55.2 L1146.3,58.2 L1147.0,61.4 L1147.6,64.7 L1148.3,68.1 L1149.0,71.5 L1149.6,75.0 L1150.3,78.5 L1150.9,82.0 L1151.6,85.5 L1152.3,89.2 L1152.9,92.8 L1153.6,96.6 L1154.2,100.5 L1154.9,104.6 L1155.6,108.6 L1156.2,112.2 L1156.9,115.5 L1157.6,118.7 L1158.2,121.8 L1158.9,124.8 L1159.5,127.5 L1160.2,130.0 L1160.9,132.1 L1161.5,133.9 L1162.2,135.3 L1162.9,136.6 L1163.5,137.8 L1164.2,139.0 L1164.8,140.2 L1165.5,141.3 L1166.2,142.4 L1166.8,143.4 L1167.5,144.4 L1168.2,145.3 L1168.8,146.2 L1169.5,147.1 L1170.1,148.0 L1170.8,148.8 L1171.5,149.5 L1172.1,150.3 L1172.8,151.0 L1173.5,151.7 L1174.1,152.4 L1174.8,153.1 L1175.5,153.7 L1176.1,154.3 L1176.8,154.8 L1177.4,155.4 L1178.1,155.9 L1178.8,156.4 L1179.4,156.8 L1180.1,157.3 L1180.8,157.7 L1181.4,158.1 L1182.1,158.5 L1182.7,158.9 L1183.4,159.2 L1184.1,159.6 L1184.7,159.9 L1185.4,160.3 L1186.0,160.6 L1186.7,160.9 L1187.4,161.2 L1188.0,161.5 L1188.7,161.8 L1189.4,162.1 L1190.0,162.4 L1190.7,162.6 L1191.3,162.9 L1192.0,163.1 L1192.7,163.4 L1193.3,163.6 L1194.0,163.8 L1194.7,164.1 L1195.3,164.3 L1196.0,164.5 L1196.7,164.7 L1197.3,164.9 L1198.0,165.1 L1198.6,165.3 L1199.3,165.5 L1200.0,165.7 L1200.6,165.8 L1201.3,166.0 L1202.0,166.2 L1202.6,166.3 L1203.3,166.5 L1203.9,166.6 L1204.6,166.8 L1205.3,166.9 L1205.9,167.1 L1206.6,167.2 L1207.2,167.3 L1207.9,167.4 L1208.6,167.5 L1209.2,167.7 L1209.9,167.8 L1210.6,167.9 L1211.2,168.0 L1211.9,168.0 L1212.5,168.1 L1213.2,168.2 L1213.9,168.3 L1214.5,168.4 L1215.2,168.5 L1215.9,168.5 L1216.5,168.6 L1217.2,168.7 L1217.8,168.8 L1218.5,168.8 L1219.2,168.9 L1219.8,169.0 L1220.5,169.0 L1221.2,169.1 L1221.8,169.1 L1222.5,169.2 L1223.2,169.3 L1223.8,169.3 L1224.5,169.4 L1225.1,169.4 L1225.8,169.5 L1226.5,169.5 L1227.1,169.6 L1227.8,169.6 L1228.5,169.6 L1229.1,169.7 L1229.8,169.7 L1230.4,169.8 L1231.1,169.8 L1231.8,169.8 L1232.4,169.9 L1233.1,169.9 L1233.8,169.9 L1234.4,170.0 L1235.1,170.0 L1235.7,170.1 L1236.4,170.1 L1237.1,170.1 L1237.7,170.1 L1238.4,170.2 L1239.0,170.2 L1239.7,170.2 L1240.4,170.3 L1241.0,170.3 L1241.7,170.3 L1242.4,170.3 L1243.0,170.4 L1243.7,170.4 L1244.3,170.4 L1245.0,170.4 L1245.7,170.5 L1246.3,170.5 L1247.0,170.5 L1247.7,170.5 L1248.3,170.6 L1249.0,170.6 L1249.7,170.6 L1250.3,170.6 L1251.0,170.7 L1251.6,170.7 L1252.3,170.7 L1253.0,170.7 L1253.6,170.7 L1254.3,170.8 L1255.0,170.8 L1255.6,170.8 L1256.3,170.8 L1256.9,170.8 L1257.6,170.9 L1258.3,170.9 L1258.9,170.9 L1259.6,170.9 L1260.2,170.9 L1260.9,171.0 L1261.6,171.0 L1262.2,171.0 L1262.9,171.0 L1263.6,171.0 L1264.2,171.0 L1264.9,171.1 L1265.5,171.1 L1266.2,171.1 L1266.9,171.1 L1267.5,171.1 L1268.2,171.1 L1268.9,171.2 L1269.5,171.2 L1270.2,171.2 L1270.8,171.2 L1271.5,171.2 L1272.2,171.2 L1272.8,171.2 L1273.5,171.3 L1274.2,171.3 L1274.8,171.3 L1275.5,171.3 L1276.2,171.3 L1276.8,171.3 L1277.5,171.3 L1278.1,171.4 L1278.8,171.4 L1279.5,171.4 L1280.1,171.4 L1280.8,171.4 L1281.5,171.4 L1282.1,171.4 L1282.8,171.4 L1283.4,171.5 L1284.1,171.5 L1284.8,171.5 L1285.4,171.5 L1286.1,171.5 L1286.8,171.5 L1287.4,171.5 L1288.1,171.5 L1288.7,171.5 L1289.4,171.6 L1290.1,171.6 L1290.7,171.6 L1291.4,171.6 L1292.0,171.6 L1292.7,171.6 L1293.4,171.6 L1294.0,171.6 L1294.7,171.6 L1295.4,171.6 L1296.0,171.7 L1296.7,171.7 L1297.3,171.7 L1298.0,171.7 L1298.7,171.7 L1299.3,171.7 L1300.0,171.7 L1300.7,171.7 L1301.3,171.7 L1302.0,171.7 L1302.7,171.7 L1303.3,171.8 L1304.0,171.8 L1304.6,171.8 L1305.3,171.8 L1306.0,171.8 L1306.6,171.8 L1307.3,171.8 L1308.0,171.8 L1308.6,171.8 L1309.3,171.8 L1309.9,171.8 L1310.6,171.8 L1311.3,171.8 L1311.9,171.8 L1312.6,171.9 L1313.2,171.9 L1313.9,171.9 L1314.6,171.9 L1315.2,171.9 L1315.9,171.9 L1316.6,171.9 L1317.2,171.9 L1317.9,171.9 L1318.5,171.9 L1319.2,171.9 L1319.9,171.9 L1320.5,171.9 L1321.2,171.9 L1321.9,171.9 L1322.5,171.9 L1323.2,171.9 L1323.8,172.0 L1324.5,172.0 L1325.2,172.0 L1325.8,172.0 L1326.5,172.0 L1327.2,172.0 L1327.8,172.0 L1328.5,172.0 L1329.2,172.0 L1329.8,172.0 L1330.5,172.0 L1331.1,172.0 L1331.8,172.0"/>
</g>
<path d="M791,172.5H1343M1066.8,1.8V342.9" stroke="#000" stroke-width="1.6" fill="none"/>
<path d="M801.8,342.9v-6.6M801.8,1.8v6.6M828.3,342.9v-3.8M828.3,1.8v3.8M854.8,342.9v-3.8M854.8,1.8v3.8M881.3,342.9v-3.8M881.3,1.8v3.8M907.8,342.9v-3.8M907.8,1.8v3.8M934.3,342.9v-6.6M934.3,1.8v6.6M960.8,342.9v-3.8M960.8,1.8v3.8M987.3,342.9v-3.8M987.3,1.8v3.8M1013.8,342.9v-3.8M1013.8,1.8v3.8M1040.3,342.9v-3.8M1040.3,1.8v3.8M1066.8,342.9v-6.6M1066.8,1.8v6.6M1093.3,342.9v-3.8M1093.3,1.8v3.8M1119.8,342.9v-3.8M1119.8,1.8v3.8M1146.3,342.9v-3.8M1146.3,1.8v3.8M1172.8,342.9v-3.8M1172.8,1.8v3.8M1199.3,342.9v-6.6M1199.3,1.8v6.6M1225.8,342.9v-3.8M1225.8,1.8v3.8M1252.3,342.9v-3.8M1252.3,1.8v3.8M1278.8,342.9v-3.8M1278.8,1.8v3.8M1305.3,342.9v-3.8M1305.3,1.8v3.8M1331.8,342.9v-6.6M1331.8,1.8v6.6M791,336.95h3.7M1343,336.95h-3.7M791,322h3.7M1343,322h-3.7M791,307.05h3.7M1343,307.05h-3.7M791,292.1h6.6M1343,292.1h-6.6M791,277.15h3.7M1343,277.15h-3.7M791,262.2h3.7M1343,262.2h-3.7M791,247.25h3.7M1343,247.25h-3.7M791,232.3h6.6M1343,232.3h-6.6M791,217.35h3.7M1343,217.35h-3.7M791,202.4h3.7M1343,202.4h-3.7M791,187.45h3.7M1343,187.45h-3.7M791,172.5h6.6M1343,172.5h-6.6M791,157.55h3.7M1343,157.55h-3.7M791,142.6h3.7M1343,142.6h-3.7M791,127.65h3.7M1343,127.65h-3.7M791,112.7h6.6M1343,112.7h-6.6M791,97.75h3.7M1343,97.75h-3.7M791,82.8h3.7M1343,82.8h-3.7M791,67.85h3.7M1343,67.85h-3.7M791,52.9h6.6M1343,52.9h-6.6M791,37.95h3.7M1343,37.95h-3.7M791,23h3.7M1343,23h-3.7M791,8.05h3.7M1343,8.05h-3.7" stroke="#000" stroke-width="1.3" fill="none"/>
<rect x="791" y="1.8" width="552" height="341.1" fill="none" stroke="#000" stroke-width="1.8"/>
<g font-family="'Liberation Serif', serif" font-size="37" fill="#000"><text x="802.8" y="382.3" text-anchor="middle"><tspan dy="1.9">−</tspan><tspan dx="3.5" dy="-1.9">10</tspan></text>
<text x="934" y="382.3" text-anchor="middle"><tspan dy="1.9">−</tspan><tspan dx="3.5" dy="-1.9">5</tspan></text>
<text x="1066.5" y="382.3" text-anchor="middle">0</text>
<text x="1198.2" y="382.3" text-anchor="middle">5</text>
<text x="1331.8" y="382.3" text-anchor="middle">10</text>
<text x="784.1" y="304.55" text-anchor="end"><tspan dy="1.9">−</tspan><tspan dx="3.5" dy="-1.9">40</tspan></text>
<text x="784.1" y="244.75" text-anchor="end"><tspan dy="1.9">−</tspan><tspan dx="3.5" dy="-1.9">20</tspan></text>
<text x="784.1" y="184.95" text-anchor="end">0</text>
<text x="784.1" y="125.15" text-anchor="end">20</text>
<text x="784.1" y="65.35" text-anchor="end">40</text></g>
<text transform="translate(712.3,172.55) rotate(-90)" text-anchor="middle" font-family="'Liberation Serif', serif" font-size="34" letter-spacing="0.45"><tspan font-style="italic">θ</tspan> (deg)</text>
<text x="1061.7" y="428.1" text-anchor="middle" font-family="'Liberation Serif', serif" font-size="35.5" letter-spacing="-4">Δb</text>
</g>
<g id="panel-d">
<g fill="none" stroke-width="4.8" stroke-linejoin="round" stroke-linecap="round">
<path stroke="#E5205F" d="M801.8,617.3 L802.5,617.3 L803.1,617.3 L803.8,617.3 L804.4,617.3 L805.1,617.3 L805.8,617.2 L806.4,617.2 L807.1,617.2 L807.8,617.2 L808.4,617.2 L809.1,617.2 L809.8,617.2 L810.4,617.2 L811.1,617.1 L811.7,617.1 L812.4,617.1 L813.1,617.1 L813.7,617.1 L814.4,617.1 L815.0,617.1 L815.7,617.1 L816.4,617.0 L817.0,617.0 L817.7,617.0 L818.4,617.0 L819.0,617.0 L819.7,617.0 L820.3,617.0 L821.0,617.0 L821.7,616.9 L822.3,616.9 L823.0,616.9 L823.7,616.9 L824.3,616.9 L825.0,616.9 L825.6,616.9 L826.3,616.8 L827.0,616.8 L827.6,616.8 L828.3,616.8 L829.0,616.8 L829.6,616.8 L830.3,616.8 L830.9,616.8 L831.6,616.7 L832.3,616.7 L832.9,616.7 L833.6,616.7 L834.3,616.7 L834.9,616.7 L835.6,616.7 L836.2,616.6 L836.9,616.6 L837.6,616.6 L838.2,616.6 L838.9,616.6 L839.6,616.6 L840.2,616.6 L840.9,616.6 L841.5,616.5 L842.2,616.5 L842.9,616.5 L843.5,616.5 L844.2,616.5 L844.9,616.5 L845.5,616.5 L846.2,616.4 L846.8,616.4 L847.5,616.4 L848.2,616.4 L848.8,616.4 L849.5,616.4 L850.2,616.4 L850.8,616.3 L851.5,616.3 L852.1,616.3 L852.8,616.3 L853.5,616.3 L854.1,616.3 L854.8,616.3 L855.5,616.2 L856.1,616.2 L856.8,616.2 L857.4,616.2 L858.1,616.2 L858.8,616.2 L859.4,616.1 L860.1,616.1 L860.8,616.1 L861.4,616.1 L862.1,616.1 L862.8,616.1 L863.4,616.0 L864.1,616.0 L864.7,616.0 L865.4,616.0 L866.1,616.0 L866.7,616.0 L867.4,616.0 L868.0,615.9 L868.7,615.9 L869.4,615.9 L870.0,615.9 L870.7,615.9 L871.4,615.9 L872.0,615.8 L872.7,615.8 L873.3,615.8 L874.0,615.8 L874.7,615.8 L875.3,615.7 L876.0,615.7 L876.7,615.7 L877.3,615.7 L878.0,615.7 L878.6,615.6 L879.3,615.6 L880.0,615.6 L880.6,615.6 L881.3,615.6 L882.0,615.5 L882.6,615.5 L883.3,615.5 L883.9,615.5 L884.6,615.4 L885.3,615.4 L885.9,615.4 L886.6,615.4 L887.3,615.3 L887.9,615.3 L888.6,615.3 L889.2,615.3 L889.9,615.2 L890.6,615.2 L891.2,615.2 L891.9,615.2 L892.6,615.1 L893.2,615.1 L893.9,615.1 L894.5,615.0 L895.2,615.0 L895.9,615.0 L896.5,615.0 L897.2,614.9 L897.9,614.9 L898.5,614.9 L899.2,614.8 L899.8,614.8 L900.5,614.8 L901.2,614.8 L901.8,614.7 L902.5,614.7 L903.2,614.7 L903.8,614.6 L904.5,614.6 L905.1,614.6 L905.8,614.5 L906.5,614.5 L907.1,614.5 L907.8,614.4 L908.5,614.4 L909.1,614.4 L909.8,614.3 L910.4,614.3 L911.1,614.3 L911.8,614.2 L912.4,614.2 L913.1,614.2 L913.8,614.1 L914.4,614.1 L915.1,614.0 L915.8,614.0 L916.4,613.9 L917.1,613.9 L917.7,613.9 L918.4,613.8 L919.1,613.8 L919.7,613.7 L920.4,613.7 L921.0,613.6 L921.7,613.6 L922.4,613.5 L923.0,613.5 L923.7,613.4 L924.4,613.4 L925.0,613.3 L925.7,613.2 L926.3,613.2 L927.0,613.1 L927.7,613.1 L928.3,613.0 L929.0,612.9 L929.7,612.9 L930.3,612.8 L931.0,612.7 L931.6,612.7 L932.3,612.6 L933.0,612.5 L933.6,612.4 L934.3,612.4 L935.0,612.3 L935.6,612.2 L936.3,612.1 L936.9,612.0 L937.6,611.9 L938.3,611.8 L938.9,611.7 L939.6,611.6 L940.3,611.5 L940.9,611.4 L941.6,611.3 L942.2,611.2 L942.9,611.1 L943.6,611.0 L944.2,610.9 L944.9,610.8 L945.6,610.7 L946.2,610.6 L946.9,610.5 L947.5,610.4 L948.2,610.3 L948.9,610.1 L949.5,610.0 L950.2,609.9 L950.9,609.7 L951.5,609.6 L952.2,609.4 L952.8,609.3 L953.5,609.1 L954.2,608.9 L954.8,608.8 L955.5,608.6 L956.2,608.4 L956.8,608.2 L957.5,608.0 L958.1,607.8 L958.8,607.6 L959.5,607.4 L960.1,607.2 L960.8,607.0 L961.5,606.8 L962.1,606.6 L962.8,606.4 L963.4,606.2 L964.1,606.0 L964.8,605.7 L965.4,605.5 L966.1,605.3 L966.8,605.0 L967.4,604.8 L968.1,604.5 L968.8,604.3 L969.4,604.0 L970.1,603.7 L970.7,603.4 L971.4,603.1 L972.1,602.8 L972.7,602.5 L973.4,602.2 L974.0,601.9 L974.7,601.6 L975.4,601.3 L976.0,600.9 L976.7,600.6 L977.4,600.2 L978.0,599.9 L978.7,599.5 L979.3,599.1 L980.0,598.7 L980.7,598.3 L981.3,597.9 L982.0,597.4 L982.7,597.0 L983.3,596.6 L984.0,596.1 L984.6,595.7 L985.3,595.3 L986.0,594.8 L986.6,594.4 L987.3,594.0 L988.0,593.6 L988.6,593.1 L989.3,592.7 L989.9,592.3 L990.6,591.8 L991.3,591.4 L991.9,591.0 L992.6,590.5 L993.3,590.1 L993.9,589.7 L994.6,589.3 L995.2,588.8 L995.9,588.4 L996.6,588.0 L997.2,587.6 L997.9,587.2 L998.6,586.9 L999.2,586.6 L999.9,586.4 L1000.5,586.2 L1001.2,586.0 L1001.9,586.0 L1002.5,586.0 L1003.2,586.2 L1003.9,586.4 L1004.5,586.7 L1005.2,587.0 L1005.8,587.6 L1006.5,588.3 L1007.2,589.2 L1007.8,590.2 L1008.5,591.7 L1009.2,593.6 L1009.8,595.9 L1010.5,598.5 L1011.1,601.3 L1011.8,604.8 L1012.5,608.9 L1013.1,613.6 L1013.8,618.6 L1014.5,624.0 L1015.1,629.8 L1015.8,636.1 L1016.4,642.9 L1017.1,650.3 L1017.8,658.2 L1018.4,668.1 L1019.1,679.5 L1019.8,690.6 L1020.4,699.8 L1021.1,707.6 L1021.8,714.8 L1022.4,721.8 L1023.1,728.4 L1023.7,734.7 L1024.4,740.8 L1025.1,746.4 L1025.7,751.7 L1026.4,756.7 L1027.0,761.4 L1027.7,765.1 L1028.4,768.0 L1029.0,770.6 L1029.7,772.6 L1030.4,774.1 L1031.0,775.4 L1031.7,776.5 L1032.3,777.3 L1033.0,777.6 L1033.7,777.3 L1034.3,776.7 L1035.0,775.8 L1035.7,774.8 L1036.3,773.9 L1037.0,773.0 L1037.6,772.0 L1038.3,771.0 L1039.0,769.9 L1039.6,768.7 L1040.3,767.6 L1041.0,766.5 L1041.6,765.4 L1042.3,764.4 L1043.0,763.3 L1043.6,762.2 L1044.3,761.1 L1044.9,760.0 L1045.6,758.9 L1046.3,757.8 L1046.9,756.7 L1047.6,755.6 L1048.2,754.5 L1048.9,753.4 L1049.6,752.4 L1050.2,751.3 L1050.9,750.2 L1051.6,749.1 L1052.2,748.0 L1052.9,746.8 L1053.5,745.6 L1054.2,744.4 L1054.9,743.1 L1055.5,741.8 L1056.2,740.4 L1056.9,739.0 L1057.5,737.5 L1058.2,735.9 L1058.8,734.3 L1059.5,732.6 L1060.2,730.8 L1060.8,728.9 L1061.5,726.9 L1062.2,724.8 L1062.8,722.5 L1063.5,720.0 L1064.1,717.1 L1064.8,713.9 L1065.5,710.7 L1066.1,707.5 L1066.8,704.2 L1067.5,700.8 L1068.1,697.2 L1068.8,693.4 L1069.5,689.5 L1070.1,685.4 L1070.8,681.2 L1071.4,677.0 L1072.1,672.7 L1072.8,668.6 L1073.4,664.6 L1074.1,660.5 L1074.8,656.2 L1075.4,651.9 L1076.1,647.3 L1076.7,642.5 L1077.4,637.3 L1078.1,631.8 L1078.7,626.1 L1079.4,620.5 L1080.0,614.9 L1080.7,609.9 L1081.4,604.8 L1082.0,599.8 L1082.7,595.1 L1083.4,590.7 L1084.0,586.5 L1084.7,582.5 L1085.3,578.7 L1086.0,574.9 L1086.7,571.2 L1087.3,567.6 L1088.0,564.0 L1088.7,559.7 L1089.3,555.5 L1090.0,551.2 L1090.6,547.1 L1091.3,543.2 L1092.0,539.4 L1092.6,535.8 L1093.3,532.3 L1094.0,529.0 L1094.6,525.8 L1095.3,522.6 L1096.0,519.4 L1096.6,516.5 L1097.3,513.9 L1097.9,511.6 L1098.6,509.4 L1099.3,507.4 L1099.9,505.5 L1100.6,503.7 L1101.2,502.0 L1101.9,500.3 L1102.6,498.7 L1103.2,497.2 L1103.9,495.8 L1104.6,494.4 L1105.2,493.1 L1105.9,491.8 L1106.5,490.6 L1107.2,489.4 L1107.9,488.2 L1108.5,487.1 L1109.2,486.0 L1109.9,484.9 L1110.5,483.8 L1111.2,482.7 L1111.8,481.7 L1112.5,480.6 L1113.2,479.5 L1113.8,478.4 L1114.5,477.3 L1115.2,476.2 L1115.8,475.1 L1116.5,474.0 L1117.1,472.9 L1117.8,471.8 L1118.5,470.8 L1119.1,469.7 L1119.8,468.6 L1120.5,467.4 L1121.1,466.2 L1121.8,465.0 L1122.5,463.9 L1123.1,462.9 L1123.8,462.0 L1124.4,461.0 L1125.1,460.0 L1125.8,459.1 L1126.4,458.6 L1127.1,458.4 L1127.8,459.0 L1128.4,460.0 L1129.1,461.2 L1129.7,462.5 L1130.4,464.2 L1131.1,466.5 L1131.7,469.2 L1132.4,472.4 L1133.0,476.6 L1133.7,481.5 L1134.4,486.6 L1135.0,492.0 L1135.7,497.9 L1136.4,504.0 L1137.0,510.5 L1137.7,517.3 L1138.3,524.3 L1139.0,531.7 L1139.7,539.9 L1140.3,550.2 L1141.0,561.6 L1141.7,572.5 L1142.3,581.4 L1143.0,589.1 L1143.6,596.2 L1144.3,602.8 L1145.0,608.8 L1145.6,614.4 L1146.3,619.6 L1147.0,624.5 L1147.6,629.0 L1148.3,632.8 L1149.0,635.9 L1149.6,638.6 L1150.3,641.1 L1150.9,643.3 L1151.6,645.0 L1152.3,646.2 L1152.9,647.2 L1153.6,648.0 L1154.2,648.7 L1154.9,649.1 L1155.6,649.4 L1156.2,649.7 L1156.9,649.9 L1157.6,650.0 L1158.2,650.0 L1158.9,649.9 L1159.5,649.7 L1160.2,649.5 L1160.9,649.2 L1161.5,649.0 L1162.2,648.6 L1162.9,648.2 L1163.5,647.8 L1164.2,647.4 L1164.8,647.0 L1165.5,646.6 L1166.2,646.1 L1166.8,645.7 L1167.5,645.3 L1168.2,644.8 L1168.8,644.4 L1169.5,644.0 L1170.1,643.5 L1170.8,643.1 L1171.5,642.7 L1172.1,642.3 L1172.8,641.8 L1173.5,641.4 L1174.1,641.0 L1174.8,640.5 L1175.5,640.1 L1176.1,639.7 L1176.8,639.2 L1177.4,638.8 L1178.1,638.4 L1178.8,638.0 L1179.4,637.5 L1180.1,637.1 L1180.8,636.7 L1181.4,636.3 L1182.1,636.0 L1182.7,635.6 L1183.4,635.3 L1184.1,634.9 L1184.7,634.6 L1185.4,634.3 L1186.0,633.9 L1186.7,633.6 L1187.4,633.3 L1188.0,633.0 L1188.7,632.7 L1189.4,632.4 L1190.0,632.2 L1190.7,631.9 L1191.3,631.6 L1192.0,631.4 L1192.7,631.1 L1193.3,630.9 L1194.0,630.6 L1194.7,630.4 L1195.3,630.2 L1196.0,629.9 L1196.7,629.7 L1197.3,629.5 L1198.0,629.3 L1198.6,629.1 L1199.3,628.9 L1200.0,628.7 L1200.6,628.5 L1201.3,628.3 L1202.0,628.1 L1202.6,627.9 L1203.3,627.7 L1203.9,627.5 L1204.6,627.3 L1205.3,627.2 L1205.9,627.0 L1206.6,626.8 L1207.2,626.7 L1207.9,626.5 L1208.6,626.4 L1209.2,626.2 L1209.9,626.1 L1210.6,625.9 L1211.2,625.8 L1211.9,625.7 L1212.5,625.6 L1213.2,625.5 L1213.9,625.3 L1214.5,625.2 L1215.2,625.1 L1215.9,625.0 L1216.5,624.9 L1217.2,624.8 L1217.8,624.7 L1218.5,624.6 L1219.2,624.5 L1219.8,624.4 L1220.5,624.3 L1221.2,624.2 L1221.8,624.1 L1222.5,624.0 L1223.2,624.0 L1223.8,623.9 L1224.5,623.8 L1225.1,623.7 L1225.8,623.6 L1226.5,623.5 L1227.1,623.5 L1227.8,623.4 L1228.5,623.3 L1229.1,623.2 L1229.8,623.2 L1230.4,623.1 L1231.1,623.0 L1231.8,623.0 L1232.4,622.9 L1233.1,622.8 L1233.8,622.8 L1234.4,622.7 L1235.1,622.7 L1235.7,622.6 L1236.4,622.6 L1237.1,622.5 L1237.7,622.5 L1238.4,622.4 L1239.0,622.4 L1239.7,622.3 L1240.4,622.3 L1241.0,622.2 L1241.7,622.2 L1242.4,622.1 L1243.0,622.1 L1243.7,622.0 L1244.3,622.0 L1245.0,622.0 L1245.7,621.9 L1246.3,621.9 L1247.0,621.8 L1247.7,621.8 L1248.3,621.8 L1249.0,621.7 L1249.7,621.7 L1250.3,621.6 L1251.0,621.6 L1251.6,621.6 L1252.3,621.5 L1253.0,621.5 L1253.6,621.5 L1254.3,621.4 L1255.0,621.4 L1255.6,621.4 L1256.3,621.3 L1256.9,621.3 L1257.6,621.3 L1258.3,621.3 L1258.9,621.2 L1259.6,621.2 L1260.2,621.2 L1260.9,621.1 L1261.6,621.1 L1262.2,621.1 L1262.9,621.1 L1263.6,621.0 L1264.2,621.0 L1264.9,621.0 L1265.5,620.9 L1266.2,620.9 L1266.9,620.9 L1267.5,620.9 L1268.2,620.8 L1268.9,620.8 L1269.5,620.8 L1270.2,620.8 L1270.8,620.7 L1271.5,620.7 L1272.2,620.7 L1272.8,620.7 L1273.5,620.6 L1274.2,620.6 L1274.8,620.6 L1275.5,620.6 L1276.2,620.5 L1276.8,620.5 L1277.5,620.5 L1278.1,620.5 L1278.8,620.4 L1279.5,620.4 L1280.1,620.4 L1280.8,620.4 L1281.5,620.3 L1282.1,620.3 L1282.8,620.3 L1283.4,620.3 L1284.1,620.3 L1284.8,620.2 L1285.4,620.2 L1286.1,620.2 L1286.8,620.2 L1287.4,620.2 L1288.1,620.2 L1288.7,620.1 L1289.4,620.1 L1290.1,620.1 L1290.7,620.1 L1291.4,620.1 L1292.0,620.1 L1292.7,620.0 L1293.4,620.0 L1294.0,620.0 L1294.7,620.0 L1295.4,620.0 L1296.0,620.0 L1296.7,619.9 L1297.3,619.9 L1298.0,619.9 L1298.7,619.9 L1299.3,619.9 L1300.0,619.9 L1300.7,619.8 L1301.3,619.8 L1302.0,619.8 L1302.7,619.8 L1303.3,619.8 L1304.0,619.8 L1304.6,619.8 L1305.3,619.7 L1306.0,619.7 L1306.6,619.7 L1307.3,619.7 L1308.0,619.7 L1308.6,619.7 L1309.3,619.7 L1309.9,619.6 L1310.6,619.6 L1311.3,619.6 L1311.9,619.6 L1312.6,619.6 L1313.2,619.6 L1313.9,619.6 L1314.6,619.5 L1315.2,619.5 L1315.9,619.5 L1316.6,619.5 L1317.2,619.5 L1317.9,619.5 L1318.5,619.5 L1319.2,619.4 L1319.9,619.4 L1320.5,619.4 L1321.2,619.4 L1321.9,619.4 L1322.5,619.4 L1323.2,619.4 L1323.8,619.3 L1324.5,619.3 L1325.2,619.3 L1325.8,619.3 L1326.5,619.3 L1327.2,619.3 L1327.8,619.3 L1328.5,619.3 L1329.2,619.2 L1329.8,619.2 L1330.5,619.2 L1331.1,619.2 L1331.8,619.2"/>
<path stroke="#1FAE1F" d="M801.8,618.7 L802.5,618.7 L803.1,618.7 L803.8,618.7 L804.4,618.7 L805.1,618.7 L805.8,618.8 L806.4,618.8 L807.1,618.8 L807.8,618.8 L808.4,618.8 L809.1,618.8 L809.8,618.8 L810.4,618.8 L811.1,618.9 L811.7,618.9 L812.4,618.9 L813.1,618.9 L813.7,618.9 L814.4,618.9 L815.0,618.9 L815.7,618.9 L816.4,619.0 L817.0,619.0 L817.7,619.0 L818.4,619.0 L819.0,619.0 L819.7,619.0 L820.3,619.0 L821.0,619.0 L821.7,619.1 L822.3,619.1 L823.0,619.1 L823.7,619.1 L824.3,619.1 L825.0,619.1 L825.6,619.1 L826.3,619.2 L827.0,619.2 L827.6,619.2 L828.3,619.2 L829.0,619.2 L829.6,619.2 L830.3,619.2 L830.9,619.2 L831.6,619.3 L832.3,619.3 L832.9,619.3 L833.6,619.3 L834.3,619.3 L834.9,619.3 L835.6,619.3 L836.2,619.4 L836.9,619.4 L837.6,619.4 L838.2,619.4 L838.9,619.4 L839.6,619.4 L840.2,619.4 L840.9,619.4 L841.5,619.5 L842.2,619.5 L842.9,619.5 L843.5,619.5 L844.2,619.5 L844.9,619.5 L845.5,619.5 L846.2,619.6 L846.8,619.6 L847.5,619.6 L848.2,619.6 L848.8,619.6 L849.5,619.6 L850.2,619.6 L850.8,619.7 L851.5,619.7 L852.1,619.7 L852.8,619.7 L853.5,619.7 L854.1,619.7 L854.8,619.7 L855.5,619.8 L856.1,619.8 L856.8,619.8 L857.4,619.8 L858.1,619.8 L858.8,619.8 L859.4,619.9 L860.1,619.9 L860.8,619.9 L861.4,619.9 L862.1,619.9 L862.8,619.9 L863.4,620.0 L864.1,620.0 L864.7,620.0 L865.4,620.0 L866.1,620.0 L866.7,620.0 L867.4,620.0 L868.0,620.1 L868.7,620.1 L869.4,620.1 L870.0,620.1 L870.7,620.1 L871.4,620.1 L872.0,620.2 L872.7,620.2 L873.3,620.2 L874.0,620.2 L874.7,620.2 L875.3,620.3 L876.0,620.3 L876.7,620.3 L877.3,620.3 L878.0,620.3 L878.6,620.4 L879.3,620.4 L880.0,620.4 L880.6,620.4 L881.3,620.4 L882.0,620.5 L882.6,620.5 L883.3,620.5 L883.9,620.5 L884.6,620.6 L885.3,620.6 L885.9,620.6 L886.6,620.6 L887.3,620.7 L887.9,620.7 L888.6,620.7 L889.2,620.7 L889.9,620.8 L890.6,620.8 L891.2,620.8 L891.9,620.8 L892.6,620.9 L893.2,620.9 L893.9,620.9 L894.5,621.0 L895.2,621.0 L895.9,621.0 L896.5,621.0 L897.2,621.1 L897.9,621.1 L898.5,621.1 L899.2,621.2 L899.8,621.2 L900.5,621.2 L901.2,621.2 L901.8,621.3 L902.5,621.3 L903.2,621.3 L903.8,621.4 L904.5,621.4 L905.1,621.4 L905.8,621.5 L906.5,621.5 L907.1,621.5 L907.8,621.6 L908.5,621.6 L909.1,621.6 L909.8,621.7 L910.4,621.7 L911.1,621.7 L911.8,621.8 L912.4,621.8 L913.1,621.8 L913.8,621.9 L914.4,621.9 L915.1,622.0 L915.8,622.0 L916.4,622.1 L917.1,622.1 L917.7,622.1 L918.4,622.2 L919.1,622.2 L919.7,622.3 L920.4,622.3 L921.0,622.4 L921.7,622.4 L922.4,622.5 L923.0,622.5 L923.7,622.6 L924.4,622.6 L925.0,622.7 L925.7,622.8 L926.3,622.8 L927.0,622.9 L927.7,622.9 L928.3,623.0 L929.0,623.1 L929.7,623.1 L930.3,623.2 L931.0,623.3 L931.6,623.3 L932.3,623.4 L933.0,623.5 L933.6,623.6 L934.3,623.6 L935.0,623.7 L935.6,623.8 L936.3,623.9 L936.9,624.0 L937.6,624.1 L938.3,624.2 L938.9,624.3 L939.6,624.4 L940.3,624.5 L940.9,624.6 L941.6,624.7 L942.2,624.8 L942.9,624.9 L943.6,625.0 L944.2,625.1 L944.9,625.2 L945.6,625.3 L946.2,625.4 L946.9,625.5 L947.5,625.6 L948.2,625.7 L948.9,625.9 L949.5,626.0 L950.2,626.1 L950.9,626.3 L951.5,626.4 L952.2,626.6 L952.8,626.7 L953.5,626.9 L954.2,627.1 L954.8,627.2 L955.5,627.4 L956.2,627.6 L956.8,627.8 L957.5,628.0 L958.1,628.2 L958.8,628.4 L959.5,628.6 L960.1,628.8 L960.8,629.0 L961.5,629.2 L962.1,629.4 L962.8,629.6 L963.4,629.8 L964.1,630.0 L964.8,630.3 L965.4,630.5 L966.1,630.7 L966.8,631.0 L967.4,631.2 L968.1,631.5 L968.8,631.7 L969.4,632.0 L970.1,632.3 L970.7,632.6 L971.4,632.9 L972.1,633.2 L972.7,633.5 L973.4,633.8 L974.0,634.1 L974.7,634.4 L975.4,634.7 L976.0,635.1 L976.7,635.4 L977.4,635.8 L978.0,636.1 L978.7,636.5 L979.3,636.9 L980.0,637.3 L980.7,637.7 L981.3,638.1 L982.0,638.6 L982.7,639.0 L983.3,639.4 L984.0,639.9 L984.6,640.3 L985.3,640.7 L986.0,641.2 L986.6,641.6 L987.3,642.0 L988.0,642.4 L988.6,642.9 L989.3,643.3 L989.9,643.7 L990.6,644.2 L991.3,644.6 L991.9,645.0 L992.6,645.5 L993.3,645.9 L993.9,646.3 L994.6,646.7 L995.2,647.2 L995.9,647.6 L996.6,648.0 L997.2,648.4 L997.9,648.8 L998.6,649.1 L999.2,649.4 L999.9,649.6 L1000.5,649.8 L1001.2,650.0 L1001.9,650.0 L1002.5,650.0 L1003.2,649.8 L1003.9,649.6 L1004.5,649.3 L1005.2,649.0 L1005.8,648.4 L1006.5,647.7 L1007.2,646.8 L1007.8,645.8 L1008.5,644.3 L1009.2,642.4 L1009.8,640.1 L1010.5,637.5 L1011.1,634.7 L1011.8,631.2 L1012.5,627.1 L1013.1,622.4 L1013.8,617.4 L1014.5,612.0 L1015.1,606.2 L1015.8,599.9 L1016.4,593.1 L1017.1,585.7 L1017.8,577.8 L1018.4,567.9 L1019.1,556.5 L1019.8,545.4 L1020.4,536.2 L1021.1,528.4 L1021.8,521.2 L1022.4,514.2 L1023.1,507.6 L1023.7,501.3 L1024.4,495.2 L1025.1,489.6 L1025.7,484.3 L1026.4,479.3 L1027.0,474.6 L1027.7,470.9 L1028.4,468.0 L1029.0,465.4 L1029.7,463.4 L1030.4,461.9 L1031.0,460.6 L1031.7,459.5 L1032.3,458.7 L1033.0,458.4 L1033.7,458.7 L1034.3,459.3 L1035.0,460.2 L1035.7,461.2 L1036.3,462.1 L1037.0,463.0 L1037.6,464.0 L1038.3,465.0 L1039.0,466.1 L1039.6,467.3 L1040.3,468.4 L1041.0,469.5 L1041.6,470.6 L1042.3,471.6 L1043.0,472.7 L1043.6,473.8 L1044.3,474.9 L1044.9,476.0 L1045.6,477.1 L1046.3,478.2 L1046.9,479.3 L1047.6,480.4 L1048.2,481.5 L1048.9,482.6 L1049.6,483.6 L1050.2,484.7 L1050.9,485.8 L1051.6,486.9 L1052.2,488.0 L1052.9,489.2 L1053.5,490.4 L1054.2,491.6 L1054.9,492.9 L1055.5,494.2 L1056.2,495.6 L1056.9,497.0 L1057.5,498.5 L1058.2,500.1 L1058.8,501.7 L1059.5,503.4 L1060.2,505.2 L1060.8,507.1 L1061.5,509.1 L1062.2,511.2 L1062.8,513.5 L1063.5,516.0 L1064.1,518.9 L1064.8,522.1 L1065.5,525.3 L1066.1,528.5 L1066.8,531.8 L1067.5,535.2 L1068.1,538.8 L1068.8,542.6 L1069.5,546.5 L1070.1,550.6 L1070.8,554.8 L1071.4,559.0 L1072.1,563.3 L1072.8,567.4 L1073.4,571.4 L1074.1,575.5 L1074.8,579.8 L1075.4,584.1 L1076.1,588.7 L1076.7,593.5 L1077.4,598.7 L1078.1,604.2 L1078.7,609.9 L1079.4,615.5 L1080.0,621.1 L1080.7,626.1 L1081.4,631.2 L1082.0,636.2 L1082.7,640.9 L1083.4,645.3 L1084.0,649.5 L1084.7,653.5 L1085.3,657.3 L1086.0,661.1 L1086.7,664.8 L1087.3,668.4 L1088.0,672.0 L1088.7,676.3 L1089.3,680.5 L1090.0,684.8 L1090.6,688.9 L1091.3,692.8 L1092.0,696.6 L1092.6,700.2 L1093.3,703.7 L1094.0,707.0 L1094.6,710.2 L1095.3,713.4 L1096.0,716.6 L1096.6,719.5 L1097.3,722.1 L1097.9,724.4 L1098.6,726.6 L1099.3,728.6 L1099.9,730.5 L1100.6,732.3 L1101.2,734.0 L1101.9,735.7 L1102.6,737.3 L1103.2,738.8 L1103.9,740.2 L1104.6,741.6 L1105.2,742.9 L1105.9,744.2 L1106.5,745.4 L1107.2,746.6 L1107.9,747.8 L1108.5,748.9 L1109.2,750.0 L1109.9,751.1 L1110.5,752.2 L1111.2,753.3 L1111.8,754.3 L1112.5,755.4 L1113.2,756.5 L1113.8,757.6 L1114.5,758.7 L1115.2,759.8 L1115.8,760.9 L1116.5,762.0 L1117.1,763.1 L1117.8,764.2 L1118.5,765.2 L1119.1,766.3 L1119.8,767.4 L1120.5,768.6 L1121.1,769.8 L1121.8,771.0 L1122.5,772.1 L1123.1,773.1 L1123.8,774.0 L1124.4,775.0 L1125.1,776.0 L1125.8,776.9 L1126.4,777.4 L1127.1,777.6 L1127.8,777.0 L1128.4,776.0 L1129.1,774.8 L1129.7,773.5 L1130.4,771.8 L1131.1,769.5 L1131.7,766.8 L1132.4,763.6 L1133.0,759.4 L1133.7,754.5 L1134.4,749.4 L1135.0,744.0 L1135.7,738.1 L1136.4,732.0 L1137.0,725.5 L1137.7,718.7 L1138.3,711.7 L1139.0,704.3 L1139.7,696.1 L1140.3,685.8 L1141.0,674.4 L1141.7,663.5 L1142.3,654.6 L1143.0,646.9 L1143.6,639.8 L1144.3,633.2 L1145.0,627.2 L1145.6,621.6 L1146.3,616.4 L1147.0,611.5 L1147.6,607.0 L1148.3,603.2 L1149.0,600.1 L1149.6,597.4 L1150.3,594.9 L1150.9,592.7 L1151.6,591.0 L1152.3,589.8 L1152.9,588.8 L1153.6,588.0 L1154.2,587.3 L1154.9,586.9 L1155.6,586.6 L1156.2,586.3 L1156.9,586.1 L1157.6,586.0 L1158.2,586.0 L1158.9,586.1 L1159.5,586.3 L1160.2,586.5 L1160.9,586.8 L1161.5,587.0 L1162.2,587.4 L1162.9,587.8 L1163.5,588.2 L1164.2,588.6 L1164.8,589.0 L1165.5,589.4 L1166.2,589.9 L1166.8,590.3 L1167.5,590.7 L1168.2,591.2 L1168.8,591.6 L1169.5,592.0 L1170.1,592.5 L1170.8,592.9 L1171.5,593.3 L1172.1,593.7 L1172.8,594.2 L1173.5,594.6 L1174.1,595.0 L1174.8,595.5 L1175.5,595.9 L1176.1,596.3 L1176.8,596.8 L1177.4,597.2 L1178.1,597.6 L1178.8,598.0 L1179.4,598.5 L1180.1,598.9 L1180.8,599.3 L1181.4,599.7 L1182.1,600.0 L1182.7,600.4 L1183.4,600.7 L1184.1,601.1 L1184.7,601.4 L1185.4,601.7 L1186.0,602.1 L1186.7,602.4 L1187.4,602.7 L1188.0,603.0 L1188.7,603.3 L1189.4,603.6 L1190.0,603.8 L1190.7,604.1 L1191.3,604.4 L1192.0,604.6 L1192.7,604.9 L1193.3,605.1 L1194.0,605.4 L1194.7,605.6 L1195.3,605.8 L1196.0,606.1 L1196.7,606.3 L1197.3,606.5 L1198.0,606.7 L1198.6,606.9 L1199.3,607.1 L1200.0,607.3 L1200.6,607.5 L1201.3,607.7 L1202.0,607.9 L1202.6,608.1 L1203.3,608.3 L1203.9,608.5 L1204.6,608.7 L1205.3,608.8 L1205.9,609.0 L1206.6,609.2 L1207.2,609.3 L1207.9,609.5 L1208.6,609.6 L1209.2,609.8 L1209.9,609.9 L1210.6,610.1 L1211.2,610.2 L1211.9,610.3 L1212.5,610.4 L1213.2,610.5 L1213.9,610.7 L1214.5,610.8 L1215.2,610.9 L1215.9,611.0 L1216.5,611.1 L1217.2,611.2 L1217.8,611.3 L1218.5,611.4 L1219.2,611.5 L1219.8,611.6 L1220.5,611.7 L1221.2,611.8 L1221.8,611.9 L1222.5,612.0 L1223.2,612.0 L1223.8,612.1 L1224.5,612.2 L1225.1,612.3 L1225.8,612.4 L1226.5,612.5 L1227.1,612.5 L1227.8,612.6 L1228.5,612.7 L1229.1,612.8 L1229.8,612.8 L1230.4,612.9 L1231.1,613.0 L1231.8,613.0 L1232.4,613.1 L1233.1,613.2 L1233.8,613.2 L1234.4,613.3 L1235.1,613.3 L1235.7,613.4 L1236.4,613.4 L1237.1,613.5 L1237.7,613.5 L1238.4,613.6 L1239.0,613.6 L1239.7,613.7 L1240.4,613.7 L1241.0,613.8 L1241.7,613.8 L1242.4,613.9 L1243.0,613.9 L1243.7,614.0 L1244.3,614.0 L1245.0,614.0 L1245.7,614.1 L1246.3,614.1 L1247.0,614.2 L1247.7,614.2 L1248.3,614.2 L1249.0,614.3 L1249.7,614.3 L1250.3,614.4 L1251.0,614.4 L1251.6,614.4 L1252.3,614.5 L1253.0,614.5 L1253.6,614.5 L1254.3,614.6 L1255.0,614.6 L1255.6,614.6 L1256.3,614.7 L1256.9,614.7 L1257.6,614.7 L1258.3,614.7 L1258.9,614.8 L1259.6,614.8 L1260.2,614.8 L1260.9,614.9 L1261.6,614.9 L1262.2,614.9 L1262.9,614.9 L1263.6,615.0 L1264.2,615.0 L1264.9,615.0 L1265.5,615.1 L1266.2,615.1 L1266.9,615.1 L1267.5,615.1 L1268.2,615.2 L1268.9,615.2 L1269.5,615.2 L1270.2,615.2 L1270.8,615.3 L1271.5,615.3 L1272.2,615.3 L1272.8,615.3 L1273.5,615.4 L1274.2,615.4 L1274.8,615.4 L1275.5,615.4 L1276.2,615.5 L1276.8,615.5 L1277.5,615.5 L1278.1,615.5 L1278.8,615.6 L1279.5,615.6 L1280.1,615.6 L1280.8,615.6 L1281.5,615.7 L1282.1,615.7 L1282.8,615.7 L1283.4,615.7 L1284.1,615.7 L1284.8,615.8 L1285.4,615.8 L1286.1,615.8 L1286.8,615.8 L1287.4,615.8 L1288.1,615.8 L1288.7,615.9 L1289.4,615.9 L1290.1,615.9 L1290.7,615.9 L1291.4,615.9 L1292.0,615.9 L1292.7,616.0 L1293.4,616.0 L1294.0,616.0 L1294.7,616.0 L1295.4,616.0 L1296.0,616.0 L1296.7,616.1 L1297.3,616.1 L1298.0,616.1 L1298.7,616.1 L1299.3,616.1 L1300.0,616.1 L1300.7,616.2 L1301.3,616.2 L1302.0,616.2 L1302.7,616.2 L1303.3,616.2 L1304.0,616.2 L1304.6,616.2 L1305.3,616.3 L1306.0,616.3 L1306.6,616.3 L1307.3,616.3 L1308.0,616.3 L1308.6,616.3 L1309.3,616.3 L1309.9,616.4 L1310.6,616.4 L1311.3,616.4 L1311.9,616.4 L1312.6,616.4 L1313.2,616.4 L1313.9,616.4 L1314.6,616.5 L1315.2,616.5 L1315.9,616.5 L1316.6,616.5 L1317.2,616.5 L1317.9,616.5 L1318.5,616.5 L1319.2,616.6 L1319.9,616.6 L1320.5,616.6 L1321.2,616.6 L1321.9,616.6 L1322.5,616.6 L1323.2,616.6 L1323.8,616.7 L1324.5,616.7 L1325.2,616.7 L1325.8,616.7 L1326.5,616.7 L1327.2,616.7 L1327.8,616.7 L1328.5,616.7 L1329.2,616.8 L1329.8,616.8 L1330.5,616.8 L1331.1,616.8 L1331.8,616.8"/>
</g>
<path d="M791,618H1343M1066.8,447.8V788.7" stroke="#000" stroke-width="1.6" fill="none"/>
<path d="M801.8,788.7v-6.6M801.8,447.8v6.6M828.3,788.7v-3.8M828.3,447.8v3.8M854.8,788.7v-3.8M854.8,447.8v3.8M881.3,788.7v-3.8M881.3,447.8v3.8M907.8,788.7v-3.8M907.8,447.8v3.8M934.3,788.7v-6.6M934.3,447.8v6.6M960.8,788.7v-3.8M960.8,447.8v3.8M987.3,788.7v-3.8M987.3,447.8v3.8M1013.8,788.7v-3.8M1013.8,447.8v3.8M1040.3,788.7v-3.8M1040.3,447.8v3.8M1066.8,788.7v-6.6M1066.8,447.8v6.6M1093.3,788.7v-3.8M1093.3,447.8v3.8M1119.8,788.7v-3.8M1119.8,447.8v3.8M1146.3,788.7v-3.8M1146.3,447.8v3.8M1172.8,788.7v-3.8M1172.8,447.8v3.8M1199.3,788.7v-6.6M1199.3,447.8v6.6M1225.8,788.7v-3.8M1225.8,447.8v3.8M1252.3,788.7v-3.8M1252.3,447.8v3.8M1278.8,788.7v-3.8M1278.8,447.8v3.8M1305.3,788.7v-3.8M1305.3,447.8v3.8M1331.8,788.7v-6.6M1331.8,447.8v6.6M791,781.5h3.7M1343,781.5h-3.7M791,765.15h3.7M1343,765.15h-3.7M791,748.8h6.6M1343,748.8h-6.6M791,732.45h3.7M1343,732.45h-3.7M791,716.1h3.7M1343,716.1h-3.7M791,699.75h3.7M1343,699.75h-3.7M791,683.4h6.6M1343,683.4h-6.6M791,667.05h3.7M1343,667.05h-3.7M791,650.7h3.7M1343,650.7h-3.7M791,634.35h3.7M1343,634.35h-3.7M791,618h6.6M1343,618h-6.6M791,601.65h3.7M1343,601.65h-3.7M791,585.3h3.7M1343,585.3h-3.7M791,568.95h3.7M1343,568.95h-3.7M791,552.6h6.6M1343,552.6h-6.6M791,536.25h3.7M1343,536.25h-3.7M791,519.9h3.7M1343,519.9h-3.7M791,503.55h3.7M1343,503.55h-3.7M791,487.2h6.6M1343,487.2h-6.6M791,470.85h3.7M1343,470.85h-3.7M791,454.5h3.7M1343,454.5h-3.7" stroke="#000" stroke-width="1.3" fill="none"/>
<rect x="791" y="447.8" width="552" height="340.9" fill="none" stroke="#000" stroke-width="1.8"/>
<g font-family="'Liberation Serif', serif" font-size="37" fill="#000"><text x="802.8" y="828.1" text-anchor="middle"><tspan dy="1.9">−</tspan><tspan dx="3.5" dy="-1.9">10</tspan></text>
<text x="934" y="828.1" text-anchor="middle"><tspan dy="1.9">−</tspan><tspan dx="3.5" dy="-1.9">5</tspan></text>
<text x="1066.5" y="828.1" text-anchor="middle">0</text>
<text x="1198.2" y="828.1" text-anchor="middle">5</text>
<text x="1331.8" y="828.1" text-anchor="middle">10</text>
<text x="784.1" y="761.25" text-anchor="end"><tspan dy="1.9">−</tspan><tspan dx="3.5" dy="-1.9">40</tspan></text>
<text x="784.1" y="695.85" text-anchor="end"><tspan dy="1.9">−</tspan><tspan dx="3.5" dy="-1.9">20</tspan></text>
<text x="784.1" y="630.45" text-anchor="end">0</text>
<text x="784.1" y="565.05" text-anchor="end">20</text>
<text x="784.1" y="499.65" text-anchor="end">40</text></g>
<text transform="translate(712.3,618.45) rotate(-90)" text-anchor="middle" font-family="'Liberation Serif', serif" font-size="34" letter-spacing="0.45"><tspan font-style="italic">θ</tspan> (deg)</text>
<text x="1061.7" y="873.9" text-anchor="middle" font-family="'Liberation Serif', serif" font-size="35.5" letter-spacing="-4">Δb</text>
</g>
<text y="65.3" font-family="'Liberation Sans', sans-serif" font-size="46.5" stroke="#000" stroke-width="0.6"><tspan x="131.9" textLength="12.2" lengthAdjust="spacingAndGlyphs">(</tspan><tspan x="146.95" dy="1.6" textLength="20" lengthAdjust="spacingAndGlyphs">a</tspan><tspan x="173" dy="-1.6" textLength="12.2" lengthAdjust="spacingAndGlyphs">)</tspan></text>
<text y="512.2" font-family="'Liberation Sans', sans-serif" font-size="46.5" stroke="#000" stroke-width="0.6"><tspan x="125.3" textLength="12.2" lengthAdjust="spacingAndGlyphs">(</tspan><tspan x="141" dy="1.4" textLength="25.3" lengthAdjust="spacingAndGlyphs">b</tspan><tspan x="168.7" dy="-1.4" textLength="12.2" lengthAdjust="spacingAndGlyphs">)</tspan></text>
<text y="58.1" font-family="'Liberation Sans', sans-serif" font-size="46.5" stroke="#000" stroke-width="0.6"><tspan x="810" textLength="12.2" lengthAdjust="spacingAndGlyphs">(</tspan><tspan x="825.3" dy="1.8" textLength="21" lengthAdjust="spacingAndGlyphs">c</tspan><tspan x="848.6" dy="-1.8" textLength="12.2" lengthAdjust="spacingAndGlyphs">)</tspan></text>
<text y="517.8" font-family="'Liberation Sans', sans-serif" font-size="46.5" stroke="#000" stroke-width="0.6"><tspan x="807.5" textLength="12.2" lengthAdjust="spacingAndGlyphs">(</tspan><tspan x="822.1" dy="1.6" textLength="25.9" lengthAdjust="spacingAndGlyphs">d</tspan><tspan x="850.9" dy="-1.6" textLength="12.2" lengthAdjust="spacingAndGlyphs">)</tspan></text>
<text x="481.5" y="72.6" font-family="'Liberation Serif', serif" font-size="20"><tspan font-style="italic">ϕ</tspan>=0</text>
<path d="M531,65.4L602.7,65.4" stroke="#F5A127" stroke-width="5" fill="none"/>
<text x="481" y="126.6" font-family="'Liberation Serif', serif" font-size="20"><tspan font-style="italic">ϕ</tspan>=<tspan font-style="italic">π</tspan></text>
<path d="M531,120.9L602.7,120.9" stroke="#7D14A0" stroke-width="5.4" fill="none"/>
<text x="1180" y="70.4" font-family="'Liberation Serif', serif" font-size="20"><tspan font-style="italic">ϕ</tspan>=0</text>
<path d="M1228.2,62.3L1290.8,61.35" stroke="#FAAF19" stroke-width="5" fill="none"/>
<text x="1180" y="121.3" font-family="'Liberation Serif', serif" font-size="20"><tspan font-style="italic">ϕ</tspan>=<tspan font-style="italic">π</tspan></text>
<path d="M1227.4,115.4L1289.6,114.5" stroke="#730FA0" stroke-width="5.2" fill="none"/>
<text x="480.3" y="529.3" font-family="'Liberation Serif', serif" font-size="20.4"><tspan font-style="italic">ϕ</tspan>=<tspan font-style="italic">π</tspan>/2</text>
<path d="M552.8,522.7L624.8,523.6" stroke="#D71E78" stroke-width="4.4" fill="none"/>
<text x="477.8" y="598.3" font-family="'Liberation Serif', serif" font-size="20.4"><tspan font-style="italic">ϕ</tspan>=3<tspan font-style="italic">π</tspan>/2</text>
<path d="M555.4,593.1L627.3,593.9" stroke="#28AF23" stroke-width="4.6" fill="none"/>
<text x="1175" y="507.3" font-family="'Liberation Serif', serif" font-size="20.4"><tspan font-style="italic">ϕ</tspan>=<tspan font-style="italic">π</tspan>/2</text>
<path d="M1244.9,501.7L1299.5,503.1" stroke="#CD2D87" stroke-width="5.3" fill="none"/>
<text x="1174.2" y="554.5" font-family="'Liberation Serif', serif" font-size="20.4"><tspan font-style="italic">ϕ</tspan>=3<tspan font-style="italic">π</tspan>/2</text>
<path d="M1247.8,549.4L1302.2,550.6" stroke="#28AF1E" stroke-width="5.3" fill="none"/>
</svg>
</body></html>
